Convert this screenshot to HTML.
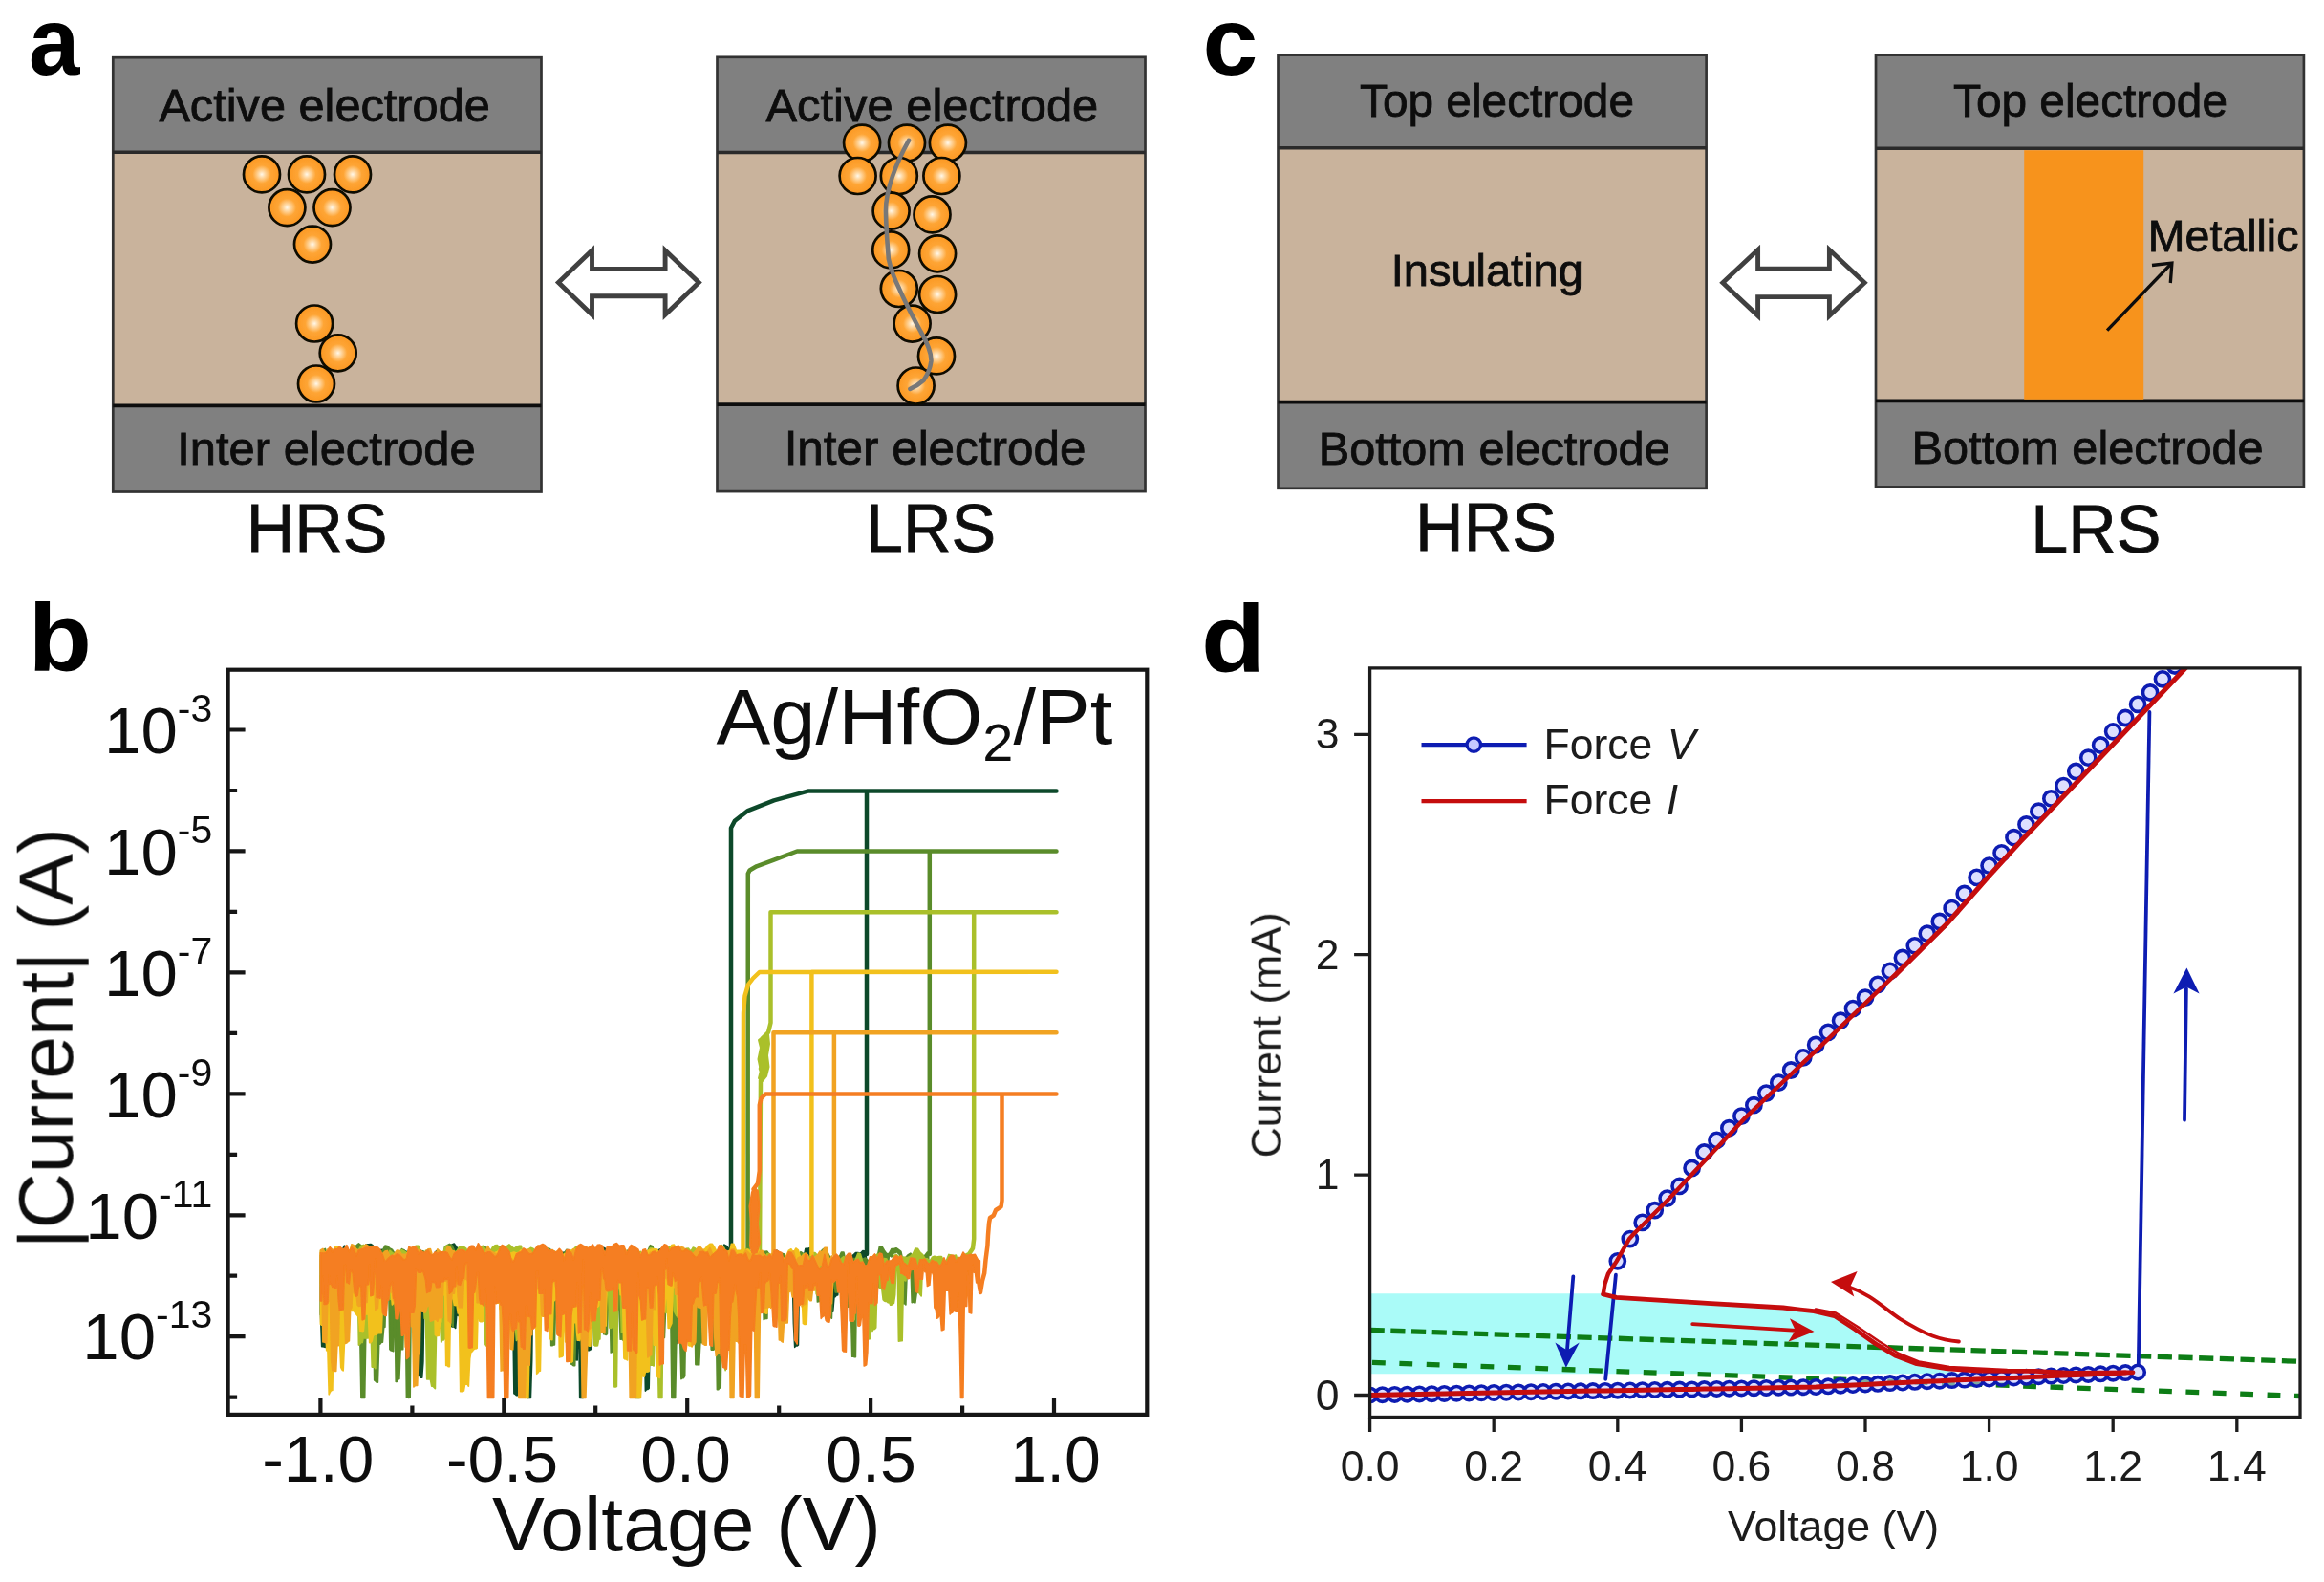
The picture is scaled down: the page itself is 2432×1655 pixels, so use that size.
<!DOCTYPE html>
<html lang="en"><head><meta charset="utf-8"><title>Figure</title>
<style>html,body{margin:0;padding:0;background:#fff;overflow:hidden}svg{display:block}text{font-family:"Liberation Sans", sans-serif}</style></head><body>
<svg width="2432" height="1655" viewBox="0 0 2432 1655">
<defs><radialGradient id="ball" cx="50%" cy="50%" r="50%"><stop offset="0" stop-color="#fff8ea"/><stop offset="0.16" stop-color="#ffdcab"/><stop offset="0.5" stop-color="#fea535"/><stop offset="1" stop-color="#fb9823"/></radialGradient><filter id="soft" x="-2%" y="-2%" width="104%" height="104%"><feGaussianBlur stdDeviation="0.65"/></filter><clipPath id="clipb"><rect x="239" y="701" width="962" height="779"/></clipPath><clipPath id="clipd"><rect x="1433.6" y="699" width="973.4" height="783.5"/></clipPath></defs>
<rect width="2432" height="1655" fill="#fff"/>
<g filter="url(#soft)">
<text transform="translate(30.0,78.0) scale(0.960,1)" font-size="100" font-weight="bold" fill="#000">a</text>
<text transform="translate(1258.5,78.0) scale(1.040,1)" font-size="100" font-weight="bold" fill="#000">c</text>
<text transform="translate(29.5,702.0) scale(1.090,1)" font-size="100" font-weight="bold" fill="#000">b</text>
<text transform="translate(1257.0,703.0) scale(1.100,1)" font-size="100" font-weight="bold" fill="#000">d</text>
<rect x="118.3" y="160.0" width="448.2" height="264.3" fill="#c9b39c"/>
<rect x="118.3" y="60.2" width="448.2" height="99.8" fill="#808080"/>
<rect x="118.3" y="424.3" width="448.2" height="90.2" fill="#808080"/>
<rect x="118.3" y="60.2" width="448.2" height="454.3" fill="none" stroke="#333333" stroke-width="2.7"/>
<line x1="118.3" y1="159.2" x2="566.5" y2="159.2" stroke="#2a2a2a" stroke-width="3.4"/>
<line x1="118.3" y1="424.3" x2="566.5" y2="424.3" stroke="#0e0e0e" stroke-width="3.8"/>
<circle cx="274.0" cy="182.4" r="19.0" fill="url(#ball)" stroke="#100802" stroke-width="2.7"/>
<circle cx="321.0" cy="182.4" r="19.0" fill="url(#ball)" stroke="#100802" stroke-width="2.7"/>
<circle cx="369.0" cy="182.4" r="19.0" fill="url(#ball)" stroke="#100802" stroke-width="2.7"/>
<circle cx="300.4" cy="217.2" r="19.0" fill="url(#ball)" stroke="#100802" stroke-width="2.7"/>
<circle cx="347.5" cy="217.2" r="19.0" fill="url(#ball)" stroke="#100802" stroke-width="2.7"/>
<circle cx="327.0" cy="255.6" r="19.0" fill="url(#ball)" stroke="#100802" stroke-width="2.7"/>
<circle cx="329.1" cy="338.5" r="19.0" fill="url(#ball)" stroke="#100802" stroke-width="2.7"/>
<circle cx="353.7" cy="369.3" r="19.0" fill="url(#ball)" stroke="#100802" stroke-width="2.7"/>
<circle cx="331.0" cy="401.5" r="19.0" fill="url(#ball)" stroke="#100802" stroke-width="2.7"/>
<text x="339.6" y="126.9" font-size="48.7" text-anchor="middle" font-weight="normal" fill="#0c0c0c" stroke="#0c0c0c" stroke-width="0.8">Active electrode</text>
<text x="341.5" y="486.0" font-size="48.9" text-anchor="middle" font-weight="normal" fill="#0c0c0c" stroke="#0c0c0c" stroke-width="0.8">Inter electrode</text>
<text x="331.6" y="577.3" font-size="70.0" text-anchor="middle" font-weight="normal" fill="#0c0c0c" stroke="#0c0c0c" stroke-width="0.8">HRS</text>
<polygon points="584.4,295.6 619.5,262.0 619.5,281.5 696.1,281.5 696.1,262.0 731.3,295.6 696.1,329.2 696.1,309.7 619.5,309.7 619.5,329.2" fill="#fff" stroke="#414141" stroke-width="4.9" stroke-linejoin="miter"/>
<rect x="750.5" y="160.3" width="448.0" height="262.9" fill="#c9b39c"/>
<rect x="750.5" y="59.8" width="448.0" height="100.5" fill="#808080"/>
<rect x="750.5" y="423.2" width="448.0" height="90.9" fill="#808080"/>
<rect x="750.5" y="59.8" width="448.0" height="454.3" fill="none" stroke="#333333" stroke-width="2.7"/>
<line x1="750.5" y1="159.5" x2="1198.5" y2="159.5" stroke="#2a2a2a" stroke-width="3.4"/>
<line x1="750.5" y1="423.2" x2="1198.5" y2="423.2" stroke="#0e0e0e" stroke-width="3.8"/>
<text x="975.4" y="126.6" font-size="48.9" text-anchor="middle" font-weight="normal" fill="#0c0c0c" stroke="#0c0c0c" stroke-width="0.8">Active electrode</text>
<text x="978.5" y="485.5" font-size="49.4" text-anchor="middle" font-weight="normal" fill="#0c0c0c" stroke="#0c0c0c" stroke-width="0.8">Inter electrode</text>
<circle cx="902.1" cy="149.6" r="19.0" fill="url(#ball)" stroke="#100802" stroke-width="2.7"/>
<circle cx="949.0" cy="149.6" r="19.0" fill="url(#ball)" stroke="#100802" stroke-width="2.7"/>
<circle cx="991.9" cy="149.6" r="19.0" fill="url(#ball)" stroke="#100802" stroke-width="2.7"/>
<circle cx="897.6" cy="184.0" r="19.0" fill="url(#ball)" stroke="#100802" stroke-width="2.7"/>
<circle cx="940.8" cy="184.0" r="19.0" fill="url(#ball)" stroke="#100802" stroke-width="2.7"/>
<circle cx="985.4" cy="184.0" r="19.0" fill="url(#ball)" stroke="#100802" stroke-width="2.7"/>
<circle cx="932.6" cy="220.7" r="19.0" fill="url(#ball)" stroke="#100802" stroke-width="2.7"/>
<circle cx="975.5" cy="224.4" r="19.0" fill="url(#ball)" stroke="#100802" stroke-width="2.7"/>
<circle cx="932.2" cy="261.4" r="19.0" fill="url(#ball)" stroke="#100802" stroke-width="2.7"/>
<circle cx="981.1" cy="265.3" r="19.0" fill="url(#ball)" stroke="#100802" stroke-width="2.7"/>
<circle cx="940.8" cy="302.0" r="19.0" fill="url(#ball)" stroke="#100802" stroke-width="2.7"/>
<circle cx="981.1" cy="308.0" r="19.0" fill="url(#ball)" stroke="#100802" stroke-width="2.7"/>
<circle cx="954.6" cy="338.6" r="19.0" fill="url(#ball)" stroke="#100802" stroke-width="2.7"/>
<circle cx="980.0" cy="372.4" r="19.0" fill="url(#ball)" stroke="#100802" stroke-width="2.7"/>
<circle cx="958.6" cy="403.5" r="19.0" fill="url(#ball)" stroke="#100802" stroke-width="2.7"/>
<path d="M951,146.8 C938,170 926,200 927,223 C927.5,245 929,258 929.8,270.8 C933,285 937,294 941,301.9 C948,318 956,333 963.6,347 C970,358 975,368 974.4,378 C973,388 970,393 966.5,397.8 C962,402 957,405 952.4,406.9" fill="none" stroke="#787878" stroke-width="4.6" stroke-linecap="round"/>
<text x="974.2" y="577.1" font-size="70.0" text-anchor="middle" font-weight="normal" fill="#0c0c0c" stroke="#0c0c0c" stroke-width="0.8">LRS</text>
<rect x="1337.5" y="155.6" width="448.1" height="265.0" fill="#c9b39c"/>
<rect x="1337.5" y="57.6" width="448.1" height="98.0" fill="#808080"/>
<rect x="1337.5" y="420.6" width="448.1" height="90.2" fill="#808080"/>
<rect x="1337.5" y="57.6" width="448.1" height="453.2" fill="none" stroke="#333333" stroke-width="2.7"/>
<line x1="1337.5" y1="154.8" x2="1785.6" y2="154.8" stroke="#2a2a2a" stroke-width="3.4"/>
<line x1="1337.5" y1="420.6" x2="1785.6" y2="420.6" stroke="#0e0e0e" stroke-width="3.8"/>
<text x="1566.5" y="122.3" font-size="47.8" text-anchor="middle" font-weight="normal" fill="#0c0c0c" stroke="#0c0c0c" stroke-width="0.8">Top electrode</text>
<text x="1563.7" y="486.1" font-size="48.7" text-anchor="middle" font-weight="normal" fill="#0c0c0c" stroke="#0c0c0c" stroke-width="0.8">Bottom electrode</text>
<text x="1556.3" y="298.7" font-size="47.0" text-anchor="middle" font-weight="normal" fill="#0c0c0c" stroke="#0c0c0c" stroke-width="0.8">Insulating</text>
<text x="1555.0" y="575.5" font-size="70.0" text-anchor="middle" font-weight="normal" fill="#0c0c0c" stroke="#0c0c0c" stroke-width="0.8">HRS</text>
<polygon points="1802.8,295.8 1839.6,261.3 1839.6,281.2 1914.4,281.2 1914.4,261.3 1951.2,295.8 1914.4,330.3 1914.4,310.6 1839.6,310.6 1839.6,330.3" fill="#fff" stroke="#414141" stroke-width="4.9" stroke-linejoin="miter"/>
<rect x="1963.0" y="156.0" width="447.9" height="263.3" fill="#c9b39c"/>
<rect x="1963.0" y="57.6" width="447.9" height="98.4" fill="#808080"/>
<rect x="1963.0" y="419.3" width="447.9" height="90.1" fill="#808080"/>
<rect x="1963.0" y="57.6" width="447.9" height="451.8" fill="none" stroke="#333333" stroke-width="2.7"/>
<line x1="1963.0" y1="155.2" x2="2410.9" y2="155.2" stroke="#2a2a2a" stroke-width="3.4"/>
<line x1="1963.0" y1="419.3" x2="2410.9" y2="419.3" stroke="#0e0e0e" stroke-width="3.8"/>
<rect x="2118.2" y="157.2" width="125" height="260.6" fill="#f7931e"/>
<text x="2187.5" y="122.3" font-size="47.8" text-anchor="middle" font-weight="normal" fill="#0c0c0c" stroke="#0c0c0c" stroke-width="0.8">Top electrode</text>
<text x="2184.6" y="484.9" font-size="48.7" text-anchor="middle" font-weight="normal" fill="#0c0c0c" stroke="#0c0c0c" stroke-width="0.8">Bottom electrode</text>
<text x="2326.6" y="263.3" font-size="46.5" text-anchor="middle" font-weight="normal" fill="#0c0c0c" stroke="#0c0c0c" stroke-width="0.8">Metallic</text>
<path d="M2205.1,345.6 L2271,277" stroke="#0a0a0a" stroke-width="3.3" fill="none"/>
<path d="M2252,277.5 L2272.9,275.1 L2271.3,296" stroke="#0a0a0a" stroke-width="3.3" fill="none"/>
<text x="2193.3" y="578.0" font-size="70.0" text-anchor="middle" font-weight="normal" fill="#0c0c0c" stroke="#0c0c0c" stroke-width="0.8">LRS</text>
<g clip-path="url(#clipb)" fill="none" stroke-linejoin="round" stroke-linecap="round">
<polygon points="335.4,1313.2 337.9,1313.2 340.4,1310.3 342.9,1310.3 345.4,1314.4 347.9,1315.0 350.4,1308.4 352.9,1308.0 355.4,1310.7 357.9,1308.4 360.4,1303.1 362.9,1304.3 365.4,1312.2 367.9,1317.0 370.4,1310.5 372.9,1309.6 375.4,1309.5 377.9,1305.5 380.4,1304.3 382.9,1302.0 385.4,1301.7 387.9,1301.5 390.4,1303.0 392.9,1308.4 395.4,1308.7 397.9,1307.5 400.4,1307.4 402.9,1312.8 405.4,1309.1 407.9,1311.2 410.4,1311.0 412.9,1313.2 415.4,1318.5 417.9,1309.8 420.4,1309.2 422.9,1308.2 425.4,1309.7 427.9,1308.4 430.4,1312.2 432.9,1305.0 435.4,1304.3 437.9,1304.1 440.4,1309.1 442.9,1310.7 445.4,1313.1 447.9,1313.5 450.4,1320.5 452.9,1320.3 455.4,1309.9 457.9,1308.0 460.4,1310.0 462.9,1312.4 465.4,1321.7 467.9,1310.8 470.4,1305.4 472.9,1302.1 475.4,1301.1 477.9,1304.7 480.4,1311.0 482.9,1313.3 485.4,1318.3 487.9,1307.7 490.4,1308.9 492.9,1315.1 495.4,1317.3 497.9,1309.2 500.4,1308.6 502.9,1316.6 505.4,1316.4 507.9,1314.7 510.4,1316.6 512.9,1316.9 515.4,1311.5 517.9,1310.0 520.4,1308.5 522.9,1308.5 525.4,1307.4 527.9,1307.7 530.4,1307.4 532.9,1310.7 535.4,1311.7 537.9,1313.2 540.4,1320.1 542.9,1312.9 545.4,1311.0 547.9,1311.6 550.4,1310.0 552.9,1317.6 555.4,1310.4 557.9,1309.9 560.4,1309.3 562.9,1310.8 565.4,1310.8 567.9,1310.5 570.4,1311.3 572.9,1312.0 575.4,1313.0 577.9,1315.1 580.4,1315.2 582.9,1310.9 585.4,1309.6 587.9,1310.0 590.4,1310.2 592.9,1309.6 595.4,1312.6 597.9,1312.6 600.4,1313.3 602.9,1317.6 605.4,1318.1 607.9,1317.3 610.4,1309.9 612.9,1310.5 615.4,1314.2 617.9,1311.3 620.4,1310.3 622.9,1308.8 625.4,1307.2 627.9,1309.0 630.4,1304.9 632.9,1305.7 635.4,1310.1 637.9,1307.0 640.4,1307.3 642.9,1310.5 645.4,1310.9 647.9,1310.9 650.4,1309.9 652.9,1316.2 655.4,1314.0 657.9,1309.1 660.4,1307.1 662.9,1308.3 665.4,1308.4 667.9,1310.2 670.4,1314.8 672.9,1317.2 675.4,1317.0 677.9,1315.3 680.4,1312.9 682.9,1309.0 685.4,1308.1 687.9,1308.6 690.4,1307.0 692.9,1306.0 695.4,1314.2 697.9,1317.1 700.4,1314.5 702.9,1316.1 705.4,1322.7 707.9,1313.0 710.4,1309.6 712.9,1307.2 715.4,1306.7 717.9,1308.8 720.4,1310.1 722.9,1313.5 725.4,1313.2 727.9,1309.4 730.4,1308.9 732.9,1308.8 735.4,1309.9 737.9,1314.9 740.4,1316.0 742.9,1320.0 745.4,1320.0 747.9,1317.3 750.4,1315.7 752.9,1312.2 755.4,1310.2 757.9,1302.1 760.4,1303.5 762.9,1306.4 765.4,1312.2 767.9,1311.1 770.4,1312.4 772.9,1313.0 775.4,1320.4 777.9,1321.0 780.4,1316.2 782.9,1315.1 785.4,1317.5 787.9,1320.4 790.4,1318.4 792.9,1313.3 795.4,1314.8 797.9,1320.2 800.4,1314.7 802.9,1314.2 805.4,1314.1 807.9,1317.7 810.4,1310.2 812.9,1308.0 815.4,1310.4 817.9,1312.3 820.4,1313.3 822.9,1315.0 825.4,1315.9 827.9,1315.4 830.4,1315.8 832.9,1324.9 835.4,1320.1 837.9,1317.2 840.4,1319.1 842.9,1306.2 845.4,1306.2 847.9,1305.5 850.4,1317.4 852.9,1316.3 855.4,1319.2 857.9,1322.8 860.4,1312.6 862.9,1312.6 865.4,1326.5 867.9,1328.0 870.4,1324.6 872.9,1324.2 875.4,1317.8 877.9,1314.5 880.4,1314.5 882.9,1316.8 885.4,1325.0 887.9,1316.4 890.4,1314.9 892.9,1313.0 895.4,1310.6 897.9,1310.6 900.4,1311.4 902.9,1308.6 905.4,1309.1 906.7,1317.9 906.7,1338.6 905.4,1337.3 904.2,1337.3 902.9,1315.3 901.7,1314.3 900.4,1315.6 899.2,1315.6 897.9,1346.5 896.7,1347.7 895.4,1348.7 894.2,1348.7 892.9,1319.1 891.7,1317.6 890.4,1338.6 889.2,1338.6 887.9,1340.1 886.7,1340.8 885.4,1340.8 884.2,1338.3 882.9,1337.4 881.7,1335.6 880.4,1335.6 879.2,1319.4 877.9,1334.5 876.7,1355.0 875.4,1355.0 874.2,1356.5 872.9,1357.4 871.7,1372.3 870.4,1372.3 869.2,1373.1 867.9,1372.9 866.7,1351.4 865.4,1351.4 864.2,1349.2 862.9,1348.1 861.7,1348.1 860.4,1325.3 859.2,1327.7 857.9,1327.3 856.7,1327.3 855.4,1326.9 854.2,1335.5 852.9,1333.9 851.7,1333.9 850.4,1331.3 849.2,1320.7 847.9,1316.7 846.7,1316.7 845.4,1316.9 844.2,1343.1 842.9,1343.1 841.7,1348.1 840.4,1348.5 839.2,1350.5 837.9,1350.5 836.7,1323.1 835.4,1407.2 834.2,1408.0 832.9,1408.0 831.7,1409.3 830.4,1384.4 829.2,1328.6 827.9,1328.6 826.7,1326.3 825.4,1348.6 824.2,1348.6 822.9,1347.8 821.7,1347.3 820.4,1338.8 819.2,1338.8 817.9,1335.7 816.7,1334.5 815.4,1326.2 814.2,1326.2 812.9,1325.6 811.7,1329.2 810.4,1330.2 809.2,1330.2 807.9,1344.1 806.7,1344.3 805.4,1344.7 804.2,1344.7 802.9,1326.8 801.7,1327.2 800.4,1327.2 799.2,1331.3 797.9,1332.0 796.7,1331.8 795.4,1331.8 794.2,1330.8 792.9,1326.2 791.7,1349.5 790.4,1349.5 789.2,1348.5 787.9,1358.6 786.7,1357.2 785.4,1357.2 784.2,1356.6 782.9,1324.5 781.7,1324.5 780.4,1327.9 779.2,1329.0 777.9,1348.6 776.7,1348.6 775.4,1348.1 774.2,1348.8 772.9,1347.1 771.7,1347.1 770.4,1346.5 769.2,1317.2 767.9,1317.8 766.7,1317.8 765.4,1337.1 764.2,1336.6 762.9,1335.2 761.7,1335.2 760.4,1325.2 759.2,1323.8 757.9,1323.8 756.7,1323.1 755.4,1324.5 754.2,1318.5 752.9,1318.5 751.7,1321.5 750.4,1324.8 749.2,1333.7 747.9,1333.7 746.7,1335.1 745.4,1335.4 744.2,1350.2 742.9,1350.2 741.7,1349.0 740.4,1348.9 739.2,1348.9 737.9,1338.2 736.7,1337.1 735.4,1334.9 734.2,1334.9 732.9,1329.1 731.7,1372.3 730.4,1372.8 729.2,1372.8 727.9,1373.3 726.7,1377.0 725.4,1395.3 724.2,1395.3 722.9,1395.6 721.7,1393.9 720.4,1384.5 719.2,1384.5 717.9,1337.1 716.7,1332.4 715.4,1332.4 714.2,1331.2 712.9,1366.2 711.7,1368.7 710.4,1368.7 709.2,1370.6 707.9,1405.7 706.7,1406.6 705.4,1406.6 704.2,1408.1 702.9,1356.8 701.7,1358.8 700.4,1358.8 699.2,1356.3 697.9,1354.4 696.7,1354.4 695.4,1349.0 694.2,1331.4 692.9,1360.0 691.7,1360.0 690.4,1361.6 689.2,1362.9 687.9,1341.9 686.7,1341.9 685.4,1341.4 684.2,1325.8 682.9,1327.6 681.7,1327.6 680.4,1380.4 679.2,1452.3 677.9,1453.5 676.7,1453.5 675.4,1455.1 674.2,1381.0 672.9,1381.0 671.7,1382.8 670.4,1386.0 669.2,1385.8 667.9,1385.8 666.7,1439.7 665.4,1438.9 664.2,1437.5 662.9,1437.5 661.7,1322.9 660.4,1347.4 659.2,1347.4 657.9,1347.4 656.7,1347.2 655.4,1328.0 654.2,1328.0 652.9,1333.5 651.7,1334.7 650.4,1335.6 649.2,1335.6 647.9,1320.8 646.7,1324.3 645.4,1324.1 644.2,1324.1 642.9,1323.6 641.7,1318.0 640.4,1317.6 639.2,1317.6 637.9,1314.8 636.7,1336.7 635.4,1335.7 634.2,1335.7 632.9,1334.5 631.7,1335.8 630.4,1335.8 629.2,1335.3 627.9,1334.8 626.7,1325.6 625.4,1325.6 624.2,1323.9 622.9,1347.1 621.7,1347.7 620.4,1347.7 619.2,1411.4 617.9,1411.7 616.7,1412.6 615.4,1412.6 614.2,1375.8 612.9,1449.4 611.7,1449.4 610.4,1462.5 609.2,1462.5 607.9,1462.5 606.7,1462.5 605.4,1358.2 604.2,1422.9 602.9,1422.6 601.7,1422.6 600.4,1422.0 599.2,1393.3 597.9,1393.0 596.7,1393.0 595.4,1393.1 594.2,1360.3 592.9,1361.0 591.7,1361.0 590.4,1360.3 589.2,1347.6 587.9,1347.6 586.7,1348.9 585.4,1348.0 584.2,1349.4 582.9,1349.4 581.7,1374.0 580.4,1374.9 579.2,1374.8 577.9,1374.8 576.7,1361.8 575.4,1361.4 574.2,1343.7 572.9,1343.7 571.7,1330.0 570.4,1364.0 569.2,1364.0 567.9,1363.1 566.7,1362.1 565.4,1359.9 564.2,1359.9 562.9,1354.1 561.7,1326.5 560.4,1327.0 559.2,1327.0 557.9,1326.1 556.7,1423.1 555.4,1462.5 554.2,1462.5 552.9,1462.5 551.7,1462.5 550.4,1436.7 549.2,1436.7 547.9,1438.2 546.7,1437.8 545.4,1437.8 544.2,1388.9 542.9,1389.0 541.7,1459.7 540.4,1459.7 539.2,1458.4 537.9,1457.8 536.7,1368.6 535.4,1368.6 534.2,1367.8 532.9,1346.7 531.7,1346.1 530.4,1346.1 529.2,1329.2 527.9,1316.2 526.7,1316.2 525.4,1314.6 524.2,1315.9 522.9,1316.2 521.7,1316.2 520.4,1336.5 519.2,1339.3 517.9,1344.2 516.7,1344.2 515.4,1345.6 514.2,1346.1 512.9,1327.5 511.7,1327.5 510.4,1327.9 509.2,1326.3 507.9,1325.9 506.7,1325.9 505.4,1320.4 504.2,1320.5 502.9,1320.5 501.7,1320.9 500.4,1321.7 499.2,1325.5 497.9,1325.5 496.7,1363.1 495.4,1364.0 494.2,1364.2 492.9,1364.2 491.7,1363.6 490.4,1392.9 489.2,1391.8 487.9,1391.8 486.7,1392.1 485.4,1371.9 484.2,1371.9 482.9,1372.8 481.7,1371.9 480.4,1376.4 479.2,1376.4 477.9,1374.2 476.7,1389.5 475.4,1388.0 474.2,1388.0 472.9,1388.0 471.7,1380.2 470.4,1382.1 469.2,1382.1 467.9,1385.3 466.7,1346.9 465.4,1387.5 464.2,1387.5 462.9,1386.5 461.7,1384.6 460.4,1384.6 459.2,1360.3 457.9,1327.0 456.7,1328.3 455.4,1328.3 454.2,1329.2 452.9,1330.2 451.7,1345.9 450.4,1345.9 449.2,1346.7 447.9,1346.3 446.7,1343.5 445.4,1343.5 444.2,1334.9 442.9,1424.7 441.7,1441.3 440.4,1441.3 439.2,1439.5 437.9,1439.2 436.7,1439.2 435.4,1401.7 434.2,1401.8 432.9,1351.2 431.7,1351.2 430.4,1358.5 429.2,1358.2 427.9,1359.2 426.7,1359.2 425.4,1336.9 424.2,1338.3 422.9,1339.6 421.7,1339.6 420.4,1330.5 419.2,1332.8 417.9,1332.8 416.7,1334.7 415.4,1335.5 414.2,1353.2 412.9,1353.2 411.7,1355.1 410.4,1355.5 409.2,1356.2 407.9,1356.2 406.7,1355.5 405.4,1353.7 404.2,1351.1 402.9,1351.1 401.7,1350.0 400.4,1351.5 399.2,1351.5 397.9,1379.3 396.7,1380.4 395.4,1380.5 394.2,1380.5 392.9,1349.3 391.7,1339.3 390.4,1350.0 389.2,1350.0 387.9,1348.6 386.7,1362.7 385.4,1363.2 384.2,1363.2 382.9,1363.4 381.7,1334.1 380.4,1339.3 379.2,1339.3 377.9,1340.5 376.7,1340.9 375.4,1340.9 374.2,1367.2 372.9,1367.0 371.7,1367.9 370.4,1367.9 369.2,1338.4 367.9,1338.5 366.7,1320.0 365.4,1320.0 364.2,1315.7 362.9,1314.3 361.7,1320.7 360.4,1320.7 359.2,1332.3 357.9,1334.3 356.7,1345.2 355.4,1345.2 354.2,1346.4 352.9,1346.6 351.7,1346.6 350.4,1338.3 349.2,1339.1 347.9,1371.7 346.7,1371.7 345.4,1372.0 344.2,1372.8 342.9,1368.2 341.7,1368.2 340.4,1409.5 339.2,1409.1 337.9,1408.7 336.7,1408.7 335.4,1373.7" fill="#0b4a2b" stroke="#0b4a2b" stroke-width="1.6"/>
<polyline points="765.0,1310.0 765.0,866.3 768.9,858.7 782.6,848.1 809.9,837.4 846.3,827.4 1105.5,827.4 907.0,827.4 907.0,1312.0" stroke="#0b4a2b" stroke-width="4.5"/>
<polygon points="335.4,1318.1 337.9,1308.0 340.4,1306.4 342.9,1314.5 345.4,1311.3 347.9,1311.9 350.4,1313.6 352.9,1318.5 355.4,1318.7 357.9,1310.6 360.4,1310.4 362.9,1311.3 365.4,1318.1 367.9,1305.9 370.4,1304.3 372.9,1302.9 375.4,1300.9 377.9,1302.9 380.4,1316.3 382.9,1312.0 385.4,1310.2 387.9,1308.1 390.4,1304.5 392.9,1305.6 395.4,1313.6 397.9,1310.0 400.4,1308.2 402.9,1303.0 405.4,1303.6 407.9,1305.9 410.4,1307.1 412.9,1311.1 415.4,1310.0 417.9,1312.7 420.4,1306.6 422.9,1307.8 425.4,1311.1 427.9,1311.4 430.4,1310.7 432.9,1310.7 435.4,1308.6 437.9,1308.8 440.4,1308.5 442.9,1308.7 445.4,1312.2 447.9,1312.8 450.4,1317.8 452.9,1323.3 455.4,1317.0 457.9,1317.1 460.4,1322.8 462.9,1320.5 465.4,1304.5 467.9,1302.6 470.4,1301.4 472.9,1302.7 475.4,1308.2 477.9,1310.2 480.4,1309.5 482.9,1308.2 485.4,1311.2 487.9,1314.0 490.4,1309.3 492.9,1309.4 495.4,1312.0 497.9,1312.1 500.4,1311.1 502.9,1310.6 505.4,1305.0 507.9,1304.6 510.4,1306.3 512.9,1307.5 515.4,1308.9 517.9,1310.5 520.4,1307.6 522.9,1304.4 525.4,1304.9 527.9,1309.1 530.4,1311.2 532.9,1312.6 535.4,1316.6 537.9,1315.4 540.4,1317.4 542.9,1313.9 545.4,1314.7 547.9,1309.4 550.4,1309.9 552.9,1308.5 555.4,1308.2 557.9,1307.1 560.4,1309.6 562.9,1310.6 565.4,1312.6 567.9,1311.7 570.4,1310.5 572.9,1306.0 575.4,1306.5 577.9,1309.2 580.4,1309.2 582.9,1311.8 585.4,1311.6 587.9,1312.5 590.4,1310.9 592.9,1307.3 595.4,1307.7 597.9,1309.0 600.4,1310.4 602.9,1313.1 605.4,1314.7 607.9,1313.7 610.4,1308.6 612.9,1306.8 615.4,1305.7 617.9,1306.3 620.4,1310.0 622.9,1308.5 625.4,1310.7 627.9,1315.8 630.4,1316.2 632.9,1315.8 635.4,1320.3 637.9,1319.5 640.4,1309.3 642.9,1308.2 645.4,1309.8 647.9,1311.2 650.4,1308.5 652.9,1309.6 655.4,1308.8 657.9,1307.6 660.4,1307.1 662.9,1308.8 665.4,1316.3 667.9,1316.3 670.4,1316.1 672.9,1321.0 675.4,1314.3 677.9,1308.5 680.4,1302.7 682.9,1303.8 685.4,1311.8 687.9,1311.6 690.4,1312.1 692.9,1320.5 695.4,1320.4 697.9,1311.7 700.4,1310.7 702.9,1306.0 705.4,1307.5 707.9,1314.0 710.4,1317.3 712.9,1326.1 715.4,1325.1 717.9,1309.6 720.4,1308.4 722.9,1308.7 725.4,1308.3 727.9,1307.7 730.4,1307.8 732.9,1314.1 735.4,1313.8 737.9,1313.8 740.4,1315.4 742.9,1315.7 745.4,1316.2 747.9,1313.8 750.4,1320.6 752.9,1308.8 755.4,1309.3 757.9,1317.2 760.4,1320.9 762.9,1317.7 765.4,1318.1 767.9,1319.5 770.4,1320.9 772.9,1319.2 775.4,1309.1 777.9,1309.6 780.4,1318.9 782.9,1315.6 785.4,1312.7 787.9,1316.1 790.4,1311.4 792.9,1312.9 795.4,1315.3 797.9,1317.9 800.4,1309.4 802.9,1309.1 805.4,1313.0 807.9,1316.8 810.4,1314.5 812.9,1315.0 815.4,1322.0 817.9,1311.4 820.4,1311.8 822.9,1323.0 825.4,1322.3 827.9,1322.5 830.4,1319.9 832.9,1313.5 835.4,1312.6 837.9,1309.7 840.4,1311.2 842.9,1320.8 845.4,1321.6 847.9,1322.0 850.4,1322.3 852.9,1321.0 855.4,1318.8 857.9,1312.8 860.4,1307.6 862.9,1305.8 865.4,1309.7 867.9,1313.7 870.4,1316.8 872.9,1315.2 875.4,1315.8 877.9,1315.8 880.4,1310.1 882.9,1310.0 885.4,1321.6 887.9,1322.8 890.4,1322.2 892.9,1316.5 895.4,1316.5 897.9,1321.3 900.4,1321.0 902.9,1317.2 905.4,1315.9 907.9,1318.0 910.4,1321.7 912.9,1314.9 915.4,1316.0 917.9,1315.6 920.4,1303.9 922.9,1303.9 925.4,1308.2 927.9,1311.7 930.4,1311.4 932.9,1306.5 935.4,1306.5 937.9,1305.7 940.4,1307.4 942.9,1309.3 945.4,1321.1 947.9,1315.3 950.4,1312.6 952.9,1311.1 955.4,1316.6 957.9,1312.7 960.4,1310.8 962.9,1311.2 965.4,1313.7 967.9,1313.2 970.4,1310.0 971.7,1309.8 971.7,1318.4 970.4,1318.6 969.2,1317.2 967.9,1317.7 966.7,1317.7 965.4,1317.3 964.2,1317.7 962.9,1317.5 961.7,1317.5 960.4,1318.2 959.2,1353.0 957.9,1362.8 956.7,1362.8 955.4,1362.1 954.2,1362.7 952.9,1323.5 951.7,1318.5 950.4,1318.5 949.2,1331.1 947.9,1365.0 946.7,1363.7 945.4,1363.7 944.2,1362.4 942.9,1326.4 941.7,1311.9 940.4,1311.9 939.2,1310.0 937.9,1310.0 936.7,1310.8 935.4,1310.8 934.2,1312.6 932.9,1315.0 931.7,1313.9 930.4,1313.9 929.2,1324.8 927.9,1324.8 926.7,1324.8 925.4,1324.8 924.2,1319.4 922.9,1310.4 921.7,1319.2 920.4,1319.2 919.2,1346.5 917.9,1347.1 916.7,1347.4 915.4,1347.4 914.2,1340.3 912.9,1341.6 911.7,1339.8 910.4,1339.4 909.2,1339.4 907.9,1340.0 906.7,1337.6 905.4,1339.0 904.2,1339.0 902.9,1340.3 901.7,1337.7 900.4,1338.5 899.2,1338.5 897.9,1337.3 896.7,1323.5 895.4,1419.7 894.2,1419.7 892.9,1418.9 891.7,1419.3 890.4,1366.6 889.2,1366.6 887.9,1367.2 886.7,1366.9 885.4,1334.7 884.2,1334.7 882.9,1321.2 881.7,1320.6 880.4,1319.7 879.2,1319.7 877.9,1351.0 876.7,1352.1 875.4,1352.0 874.2,1352.0 872.9,1341.5 871.7,1339.1 870.4,1379.3 869.2,1377.7 867.9,1377.7 866.7,1377.9 865.4,1339.5 864.2,1340.5 862.9,1340.5 861.7,1341.5 860.4,1350.0 859.2,1361.5 857.9,1361.5 856.7,1361.6 855.4,1362.0 854.2,1335.7 852.9,1335.7 851.7,1336.6 850.4,1338.4 849.2,1350.3 847.9,1350.3 846.7,1350.3 845.4,1348.5 844.2,1353.6 842.9,1353.6 841.7,1352.3 840.4,1360.4 839.2,1358.9 837.9,1358.9 836.7,1358.4 835.4,1342.1 834.2,1343.1 832.9,1343.1 831.7,1334.3 830.4,1335.4 829.2,1332.1 827.9,1333.4 826.7,1333.4 825.4,1330.7 824.2,1333.6 822.9,1333.8 821.7,1333.8 820.4,1333.7 819.2,1323.0 817.9,1325.2 816.7,1325.2 815.4,1325.8 814.2,1325.9 812.9,1326.3 811.7,1326.3 810.4,1349.6 809.2,1349.0 807.9,1348.4 806.7,1348.4 805.4,1341.6 804.2,1321.6 802.9,1379.5 801.7,1379.5 800.4,1379.7 799.2,1380.5 797.9,1338.2 796.7,1338.2 795.4,1339.2 794.2,1329.7 792.9,1327.9 791.7,1327.9 790.4,1326.4 789.2,1330.6 787.9,1330.4 786.7,1331.4 785.4,1331.4 784.2,1340.5 782.9,1352.5 781.7,1352.5 780.4,1352.5 779.2,1351.2 777.9,1373.7 776.7,1373.2 775.4,1373.2 774.2,1374.3 772.9,1380.1 771.7,1381.8 770.4,1381.8 769.2,1381.9 767.9,1336.3 766.7,1343.6 765.4,1343.6 764.2,1374.2 762.9,1373.0 761.7,1372.0 760.4,1372.0 759.2,1375.2 757.9,1376.2 756.7,1374.7 755.4,1374.7 754.2,1451.9 752.9,1452.0 751.7,1453.7 750.4,1453.7 749.2,1370.6 747.9,1410.9 746.7,1412.3 745.4,1412.1 744.2,1412.1 742.9,1349.6 741.7,1369.4 740.4,1368.7 739.2,1368.7 737.9,1367.9 736.7,1344.6 735.4,1404.6 734.2,1404.6 732.9,1403.6 731.7,1428.0 730.4,1427.7 729.2,1427.7 727.9,1427.6 726.7,1344.7 725.4,1344.1 724.2,1344.1 722.9,1344.5 721.7,1358.8 720.4,1359.4 719.2,1359.4 717.9,1365.0 716.7,1439.5 715.4,1441.6 714.2,1441.6 712.9,1442.7 711.7,1401.4 710.4,1401.0 709.2,1401.0 707.9,1399.4 706.7,1462.5 705.4,1462.5 704.2,1462.5 702.9,1462.5 701.7,1366.3 700.4,1367.4 699.2,1368.4 697.9,1368.4 696.7,1366.2 695.4,1399.5 694.2,1399.6 692.9,1399.6 691.7,1413.3 690.4,1413.2 689.2,1412.7 687.9,1412.7 686.7,1405.5 685.4,1403.8 684.2,1388.6 682.9,1388.6 681.7,1377.3 680.4,1377.0 679.2,1378.8 677.9,1378.8 676.7,1413.7 675.4,1417.9 674.2,1420.9 672.9,1420.9 671.7,1416.9 670.4,1368.9 669.2,1462.5 667.9,1462.5 666.7,1462.5 665.4,1462.5 664.2,1384.0 662.9,1345.4 661.7,1345.4 660.4,1331.9 659.2,1330.4 657.9,1353.9 656.7,1353.9 655.4,1365.7 654.2,1366.1 652.9,1401.9 651.7,1401.9 650.4,1400.7 649.2,1401.2 647.9,1369.8 646.7,1369.8 645.4,1345.8 644.2,1344.9 642.9,1413.4 641.7,1413.4 640.4,1414.5 639.2,1414.9 637.9,1354.3 636.7,1354.3 635.4,1395.6 634.2,1396.5 632.9,1395.8 631.7,1395.8 630.4,1352.5 629.2,1387.3 627.9,1386.4 626.7,1386.4 625.4,1383.9 624.2,1363.8 622.9,1349.7 621.7,1349.9 620.4,1349.9 619.2,1349.0 617.9,1336.2 616.7,1331.4 615.4,1331.4 614.2,1332.1 612.9,1421.5 611.7,1423.4 610.4,1423.4 609.2,1423.9 607.9,1386.1 606.7,1386.5 605.4,1386.5 604.2,1374.7 602.9,1374.6 601.7,1428.8 600.4,1428.8 599.2,1427.8 597.9,1427.3 596.7,1335.2 595.4,1335.2 594.2,1337.5 592.9,1352.7 591.7,1354.3 590.4,1354.3 589.2,1355.2 587.9,1331.4 586.7,1347.6 585.4,1347.6 584.2,1346.7 582.9,1344.7 581.7,1359.8 580.4,1407.0 579.2,1407.0 577.9,1407.8 576.7,1407.8 575.4,1324.7 574.2,1324.7 572.9,1324.2 571.7,1353.7 570.4,1354.1 569.2,1354.1 567.9,1355.0 566.7,1340.4 565.4,1340.5 564.2,1340.5 562.9,1332.3 561.7,1335.5 560.4,1340.8 559.2,1340.8 557.9,1340.9 556.7,1341.8 555.4,1328.9 554.2,1328.9 552.9,1329.2 551.7,1329.6 550.4,1335.2 549.2,1335.2 547.9,1397.1 546.7,1396.3 545.4,1395.9 544.2,1395.9 542.9,1330.3 541.7,1330.4 540.4,1330.9 539.2,1328.4 537.9,1328.4 536.7,1322.7 535.4,1327.3 534.2,1328.3 532.9,1328.3 531.7,1331.8 530.4,1331.2 529.2,1329.1 527.9,1329.1 526.7,1331.4 525.4,1329.2 524.2,1328.7 522.9,1328.7 521.7,1322.4 520.4,1346.1 519.2,1349.0 517.9,1349.0 516.7,1350.8 515.4,1324.1 514.2,1320.8 512.9,1320.8 511.7,1383.2 510.4,1381.4 509.2,1380.4 507.9,1380.4 506.7,1319.7 505.4,1344.6 504.2,1345.0 502.9,1345.0 501.7,1347.0 500.4,1335.9 499.2,1337.2 497.9,1359.7 496.7,1359.7 495.4,1360.1 494.2,1359.7 492.9,1339.0 491.7,1339.0 490.4,1339.5 489.2,1339.5 487.9,1341.5 486.7,1341.5 485.4,1347.2 484.2,1347.4 482.9,1347.6 481.7,1347.6 480.4,1350.3 479.2,1350.8 477.9,1350.6 476.7,1350.6 475.4,1331.1 474.2,1388.3 472.9,1386.0 471.7,1386.0 470.4,1384.7 469.2,1329.7 467.9,1329.7 466.7,1329.7 465.4,1344.0 464.2,1382.8 462.9,1386.8 461.7,1386.8 460.4,1389.1 459.2,1364.3 457.9,1364.1 456.7,1352.7 455.4,1352.7 454.2,1351.6 452.9,1338.7 451.7,1331.8 450.4,1331.8 449.2,1331.3 447.9,1330.0 446.7,1326.3 445.4,1326.3 444.2,1327.4 442.9,1343.9 441.7,1365.5 440.4,1365.5 439.2,1364.9 437.9,1365.0 436.7,1373.3 435.4,1373.3 434.2,1374.0 432.9,1374.1 431.7,1340.4 430.4,1340.4 429.2,1462.0 427.9,1462.4 426.7,1462.1 425.4,1462.1 424.2,1362.0 422.9,1360.3 421.7,1411.7 420.4,1411.7 419.2,1409.9 417.9,1442.5 416.7,1443.0 415.4,1445.4 414.2,1445.4 412.9,1350.6 411.7,1413.8 410.4,1413.0 409.2,1413.0 407.9,1411.7 406.7,1342.0 405.4,1340.7 404.2,1340.7 402.9,1388.2 401.7,1388.7 400.4,1404.3 399.2,1404.3 397.9,1406.0 396.7,1406.6 395.4,1446.1 394.2,1446.1 392.9,1445.0 391.7,1444.0 390.4,1364.2 389.2,1364.2 387.9,1364.8 386.7,1366.3 385.4,1387.8 384.2,1387.8 382.9,1388.4 381.7,1462.5 380.4,1462.5 379.2,1462.5 377.9,1462.5 376.7,1393.9 375.4,1322.2 374.2,1329.4 372.9,1329.4 371.7,1366.6 370.4,1367.3 369.2,1368.8 367.9,1368.8 366.7,1344.4 365.4,1346.1 364.2,1345.4 362.9,1345.4 361.7,1346.3 360.4,1347.3 359.2,1338.4 357.9,1338.4 356.7,1369.5 355.4,1369.2 354.2,1369.1 352.9,1369.1 351.7,1367.4 350.4,1366.9 349.2,1349.3 347.9,1349.3 346.7,1349.5 345.4,1365.2 344.2,1364.7 342.9,1364.7 341.7,1364.9 340.4,1333.8 339.2,1343.9 337.9,1343.9 336.7,1374.2 335.4,1375.4" fill="#5a8c2b" stroke="#5a8c2b" stroke-width="1.6"/>
<polyline points="782.6,1310.0 782.8,914.0 784.5,910.5 791.7,906.3 809.9,899.6 834.1,890.5 1105.5,890.5 972.8,890.5 972.8,1312.0" stroke="#5a8c2b" stroke-width="4.5"/>
<polygon points="335.4,1308.7 337.9,1309.0 340.4,1310.0 342.9,1311.1 345.4,1311.2 347.9,1312.2 350.4,1311.3 352.9,1310.6 355.4,1307.7 357.9,1307.7 360.4,1315.2 362.9,1312.1 365.4,1311.4 367.9,1307.2 370.4,1308.5 372.9,1308.0 375.4,1307.3 377.9,1303.3 380.4,1302.4 382.9,1304.3 385.4,1304.4 387.9,1309.7 390.4,1307.2 392.9,1305.6 395.4,1308.1 397.9,1310.2 400.4,1314.1 402.9,1317.7 405.4,1318.6 407.9,1308.2 410.4,1310.4 412.9,1312.2 415.4,1313.6 417.9,1308.9 420.4,1307.7 422.9,1309.0 425.4,1310.5 427.9,1317.1 430.4,1319.4 432.9,1304.9 435.4,1303.2 437.9,1303.2 440.4,1316.2 442.9,1318.1 445.4,1308.3 447.9,1307.9 450.4,1311.9 452.9,1313.3 455.4,1312.9 457.9,1317.7 460.4,1316.3 462.9,1312.9 465.4,1305.5 467.9,1302.9 470.4,1303.9 472.9,1308.2 475.4,1311.4 477.9,1308.8 480.4,1304.7 482.9,1304.7 485.4,1304.5 487.9,1306.2 490.4,1315.1 492.9,1315.6 495.4,1307.8 497.9,1314.2 500.4,1312.1 502.9,1304.6 505.4,1303.3 507.9,1307.0 510.4,1309.1 512.9,1309.7 515.4,1304.8 517.9,1302.9 520.4,1302.5 522.9,1306.0 525.4,1305.2 527.9,1304.1 530.4,1303.7 532.9,1301.9 535.4,1304.1 537.9,1306.4 540.4,1304.4 542.9,1303.4 545.4,1303.4 547.9,1315.1 550.4,1310.8 552.9,1307.2 555.4,1305.3 557.9,1306.2 560.4,1310.5 562.9,1320.8 565.4,1308.8 567.9,1307.7 570.4,1306.1 572.9,1306.7 575.4,1315.1 577.9,1309.3 580.4,1309.4 582.9,1318.1 585.4,1317.6 587.9,1312.6 590.4,1313.2 592.9,1318.0 595.4,1313.6 597.9,1308.1 600.4,1307.0 602.9,1304.1 605.4,1306.1 607.9,1311.9 610.4,1307.7 612.9,1305.4 615.4,1305.5 617.9,1308.3 620.4,1311.2 622.9,1314.2 625.4,1315.0 627.9,1311.6 630.4,1311.4 632.9,1315.2 635.4,1314.4 637.9,1311.5 640.4,1310.8 642.9,1314.1 645.4,1314.2 647.9,1311.0 650.4,1309.5 652.9,1312.8 655.4,1312.9 657.9,1321.8 660.4,1320.6 662.9,1312.7 665.4,1312.3 667.9,1310.7 670.4,1309.3 672.9,1316.7 675.4,1309.2 677.9,1309.3 680.4,1305.8 682.9,1305.8 685.4,1310.9 687.9,1313.8 690.4,1313.6 692.9,1312.1 695.4,1311.3 697.9,1306.9 700.4,1304.4 702.9,1303.1 705.4,1314.4 707.9,1311.3 710.4,1312.6 712.9,1310.7 715.4,1308.0 717.9,1306.3 720.4,1306.1 722.9,1309.2 725.4,1305.0 727.9,1306.3 730.4,1310.7 732.9,1311.9 735.4,1310.1 737.9,1316.6 740.4,1316.7 742.9,1314.1 745.4,1310.6 747.9,1310.5 750.4,1311.8 752.9,1307.0 755.4,1302.7 757.9,1305.6 760.4,1311.3 762.9,1316.9 765.4,1317.5 767.9,1324.0 770.4,1323.1 772.9,1312.5 775.4,1308.1 777.9,1315.0 780.4,1306.2 782.9,1307.2 785.4,1308.4 787.9,1310.6 790.4,1311.2 792.9,1312.8 795.4,1314.8 797.9,1321.9 800.4,1315.5 802.9,1311.6 805.4,1311.6 807.9,1318.7 810.4,1322.9 812.9,1313.3 815.4,1314.3 817.9,1318.8 820.4,1324.5 822.9,1325.5 825.4,1326.9 827.9,1322.1 830.4,1320.9 832.9,1327.0 835.4,1324.5 837.9,1320.3 840.4,1312.1 842.9,1311.6 845.4,1319.5 847.9,1313.4 850.4,1310.5 852.9,1310.5 855.4,1313.3 857.9,1313.9 860.4,1313.2 862.9,1316.6 865.4,1323.1 867.9,1322.4 870.4,1317.1 872.9,1318.3 875.4,1320.0 877.9,1319.4 880.4,1316.7 882.9,1314.6 885.4,1317.2 887.9,1324.8 890.4,1321.5 892.9,1321.6 895.4,1317.4 897.9,1311.1 900.4,1311.7 902.9,1320.4 905.4,1325.3 907.9,1329.3 910.4,1323.6 912.9,1316.0 915.4,1313.8 917.9,1312.1 920.4,1312.2 922.9,1319.3 925.4,1316.6 927.9,1317.1 930.4,1326.8 932.9,1325.2 935.4,1313.4 937.9,1312.4 940.4,1314.3 942.9,1315.0 945.4,1315.0 947.9,1315.6 950.4,1315.3 952.9,1313.9 955.4,1311.5 957.9,1306.0 960.4,1306.3 962.9,1310.2 965.4,1312.3 967.9,1316.5 970.4,1316.7 972.9,1319.3 975.4,1315.3 977.9,1314.2 980.4,1315.0 982.9,1314.5 985.4,1314.5 987.9,1320.5 990.4,1318.6 992.9,1312.4 995.4,1313.1 997.9,1313.8 1000.4,1313.0 1002.9,1320.5 1005.4,1318.4 1007.9,1318.1 1007.9,1318.1 1007.9,1324.9 1006.7,1324.9 1005.4,1325.2 1004.2,1324.4 1002.9,1343.6 1001.7,1344.1 1000.4,1344.1 999.2,1344.4 997.9,1326.5 996.7,1325.5 995.4,1324.8 994.2,1324.8 992.9,1322.6 991.7,1321.9 990.4,1328.5 989.2,1328.5 987.9,1330.5 986.7,1332.0 985.4,1325.4 984.2,1324.2 982.9,1324.2 981.7,1338.7 980.4,1338.0 979.2,1336.8 977.9,1336.8 976.7,1331.5 975.4,1322.4 974.2,1321.5 972.9,1324.5 971.7,1324.5 970.4,1325.2 969.2,1325.9 967.9,1326.8 966.7,1326.8 965.4,1326.5 964.2,1355.9 962.9,1354.3 961.7,1352.4 960.4,1352.4 959.2,1331.8 957.9,1325.2 956.7,1325.9 955.4,1325.9 954.2,1327.2 952.9,1326.5 951.7,1328.0 950.4,1328.7 949.2,1328.7 947.9,1339.9 946.7,1339.5 945.4,1339.3 944.2,1402.7 942.9,1402.7 941.7,1403.0 940.4,1403.1 939.2,1323.9 937.9,1323.9 936.7,1354.7 935.4,1363.5 934.2,1363.8 932.9,1365.2 931.7,1365.2 930.4,1361.9 929.2,1362.8 927.9,1361.4 926.7,1361.4 925.4,1361.0 924.2,1359.8 922.9,1349.3 921.7,1347.5 920.4,1347.5 919.2,1321.2 917.9,1345.5 916.7,1389.0 915.4,1390.4 914.2,1390.4 912.9,1392.6 911.7,1333.0 910.4,1400.8 909.2,1400.8 907.9,1401.7 906.7,1402.7 905.4,1352.8 904.2,1350.8 902.9,1350.8 901.7,1348.4 900.4,1329.9 899.2,1329.4 897.9,1329.4 896.7,1335.0 895.4,1362.4 894.2,1380.5 892.9,1381.9 891.7,1381.9 890.4,1381.9 889.2,1346.0 887.9,1344.6 886.7,1344.6 885.4,1342.8 884.2,1338.2 882.9,1337.3 881.7,1337.6 880.4,1337.6 879.2,1328.8 877.9,1328.8 876.7,1329.6 875.4,1329.6 874.2,1328.6 872.9,1324.2 871.7,1331.5 870.4,1348.3 869.2,1348.3 867.9,1348.9 866.7,1349.6 865.4,1343.3 864.2,1341.3 862.9,1341.3 861.7,1329.3 860.4,1327.1 859.2,1324.8 857.9,1324.8 856.7,1351.9 855.4,1353.0 854.2,1353.8 852.9,1333.9 851.7,1333.9 850.4,1334.0 849.2,1329.3 847.9,1353.3 846.7,1353.3 845.4,1352.4 844.2,1351.3 842.9,1322.3 841.7,1318.6 840.4,1318.6 839.2,1343.7 837.9,1345.4 836.7,1348.2 835.4,1324.8 834.2,1324.8 832.9,1331.6 831.7,1346.3 830.4,1346.7 829.2,1346.7 827.9,1347.8 826.7,1333.2 825.4,1332.8 824.2,1331.3 822.9,1331.3 821.7,1324.9 820.4,1323.2 819.2,1323.2 817.9,1323.2 816.7,1327.3 815.4,1327.1 814.2,1326.3 812.9,1335.2 811.7,1335.2 810.4,1335.6 809.2,1335.0 807.9,1325.6 806.7,1325.6 805.4,1325.0 804.2,1325.2 802.9,1317.6 801.7,1318.9 800.4,1318.9 799.2,1324.6 797.9,1326.0 796.7,1325.6 795.4,1325.6 794.2,1324.7 792.9,1322.3 791.7,1332.7 790.4,1331.4 789.2,1331.4 787.9,1340.5 786.7,1339.7 785.4,1338.7 784.2,1332.5 782.9,1332.5 781.7,1331.4 780.4,1347.1 779.2,1346.5 777.9,1346.5 776.7,1347.0 775.4,1341.8 774.2,1328.2 772.9,1342.5 771.7,1342.5 770.4,1345.3 769.2,1368.1 767.9,1367.8 766.7,1367.8 765.4,1368.0 764.2,1363.5 762.9,1336.4 761.7,1335.2 760.4,1335.2 759.2,1433.7 757.9,1430.1 756.7,1427.2 755.4,1385.2 754.2,1385.2 752.9,1384.1 751.7,1386.1 750.4,1378.4 749.2,1378.4 747.9,1380.6 746.7,1380.5 745.4,1330.3 744.2,1335.5 742.9,1335.5 741.7,1356.3 740.4,1354.7 739.2,1354.6 737.9,1354.6 736.7,1349.8 735.4,1345.4 734.2,1346.2 732.9,1321.7 731.7,1321.7 730.4,1322.3 729.2,1321.6 727.9,1332.4 726.7,1332.4 725.4,1331.2 724.2,1350.4 722.9,1350.0 721.7,1350.5 720.4,1350.5 719.2,1329.4 717.9,1325.5 716.7,1325.7 715.4,1325.7 714.2,1322.1 712.9,1340.3 711.7,1341.7 710.4,1341.3 709.2,1341.3 707.9,1376.6 706.7,1374.4 705.4,1371.8 704.2,1350.2 702.9,1350.2 701.7,1350.9 700.4,1370.1 699.2,1372.6 697.9,1372.6 696.7,1373.5 695.4,1348.4 694.2,1342.4 692.9,1462.5 691.7,1462.5 690.4,1462.5 689.2,1462.5 687.9,1388.6 686.7,1388.6 685.4,1388.5 684.2,1429.0 682.9,1428.1 681.7,1428.1 680.4,1428.1 679.2,1350.7 677.9,1435.2 676.7,1435.0 675.4,1435.0 674.2,1434.9 672.9,1363.9 671.7,1353.8 670.4,1417.9 669.2,1417.9 667.9,1419.3 666.7,1442.9 665.4,1444.5 664.2,1444.9 662.9,1444.9 661.7,1392.4 660.4,1363.5 659.2,1377.2 657.9,1377.2 656.7,1375.6 655.4,1374.2 654.2,1393.0 652.9,1393.4 651.7,1393.4 650.4,1393.7 649.2,1352.7 647.9,1346.3 646.7,1346.3 645.4,1450.5 644.2,1450.9 642.9,1450.9 641.7,1388.6 640.4,1388.6 639.2,1389.4 637.9,1389.3 636.7,1352.0 635.4,1352.0 634.2,1366.4 632.9,1366.1 631.7,1366.4 630.4,1357.9 629.2,1357.9 627.9,1401.1 626.7,1400.5 625.4,1407.8 624.2,1408.0 622.9,1408.0 621.7,1407.2 620.4,1378.3 619.2,1376.4 617.9,1376.4 616.7,1332.8 615.4,1328.9 614.2,1384.8 612.9,1386.2 611.7,1386.2 610.4,1388.5 609.2,1382.4 607.9,1347.1 606.7,1347.1 605.4,1345.2 604.2,1336.0 602.9,1348.5 601.7,1348.3 600.4,1348.3 599.2,1347.5 597.9,1397.5 596.7,1399.0 595.4,1399.0 594.2,1400.4 592.9,1362.0 591.7,1362.9 590.4,1336.5 589.2,1336.5 587.9,1351.0 586.7,1350.5 585.4,1350.6 584.2,1352.5 582.9,1352.5 581.7,1352.0 580.4,1352.4 579.2,1342.4 577.9,1342.4 576.7,1357.2 575.4,1355.6 574.2,1354.5 572.9,1323.2 571.7,1323.2 570.4,1338.4 569.2,1338.6 567.9,1339.8 566.7,1339.8 565.4,1376.1 564.2,1377.9 562.9,1379.0 561.7,1357.0 560.4,1357.0 559.2,1354.6 557.9,1338.5 556.7,1367.2 555.4,1367.2 554.2,1367.4 552.9,1367.7 551.7,1351.5 550.4,1394.5 549.2,1394.5 547.9,1392.8 546.7,1390.3 545.4,1389.1 544.2,1400.8 542.9,1400.8 541.7,1400.9 540.4,1402.4 539.2,1386.3 537.9,1386.3 536.7,1387.1 535.4,1347.4 534.2,1346.1 532.9,1366.7 531.7,1366.7 530.4,1366.9 529.2,1367.1 527.9,1361.5 526.7,1361.5 525.4,1362.6 524.2,1362.7 522.9,1329.8 521.7,1362.2 520.4,1362.2 519.2,1361.5 517.9,1362.6 516.7,1339.8 515.4,1339.8 514.2,1342.1 512.9,1376.9 511.7,1409.2 510.4,1408.2 509.2,1408.2 507.9,1406.5 506.7,1339.9 505.4,1339.1 504.2,1338.5 502.9,1338.5 501.7,1337.1 500.4,1339.1 499.2,1341.2 497.9,1341.2 496.7,1338.8 495.4,1362.0 494.2,1361.8 492.9,1360.7 491.7,1360.7 490.4,1339.3 489.2,1327.8 487.9,1327.6 486.7,1327.6 485.4,1328.7 484.2,1343.6 482.9,1342.6 481.7,1342.6 480.4,1342.6 479.2,1327.8 477.9,1330.2 476.7,1341.8 475.4,1341.8 474.2,1342.6 472.9,1342.0 471.7,1342.4 470.4,1340.2 469.2,1340.2 467.9,1339.0 466.7,1365.3 465.4,1400.4 464.2,1401.9 462.9,1401.9 461.7,1404.3 460.4,1378.9 459.2,1387.7 457.9,1387.7 456.7,1387.5 455.4,1452.8 454.2,1451.5 452.9,1450.2 451.7,1450.2 450.4,1443.3 449.2,1442.8 447.9,1443.0 446.7,1443.0 445.4,1378.4 444.2,1379.3 442.9,1355.9 441.7,1350.7 440.4,1350.7 439.2,1342.3 437.9,1356.5 436.7,1356.4 435.4,1356.4 434.2,1356.4 432.9,1351.5 431.7,1360.9 430.4,1363.3 429.2,1363.3 427.9,1364.3 426.7,1349.7 425.4,1343.6 424.2,1375.1 422.9,1375.1 421.7,1373.5 420.4,1373.6 419.2,1343.9 417.9,1343.9 416.7,1367.9 415.4,1370.0 414.2,1370.8 412.9,1357.5 411.7,1357.5 410.4,1355.7 409.2,1359.6 407.9,1358.8 406.7,1358.8 405.4,1359.2 404.2,1351.0 402.9,1353.2 401.7,1342.0 400.4,1342.0 399.2,1354.3 397.9,1356.3 396.7,1354.2 395.4,1354.2 394.2,1351.6 392.9,1431.7 391.7,1429.9 390.4,1430.1 389.2,1430.1 387.9,1386.7 386.7,1353.1 385.4,1400.0 384.2,1400.0 382.9,1400.0 381.7,1400.1 380.4,1398.6 379.2,1404.5 377.9,1404.5 376.7,1406.1 375.4,1407.1 374.2,1340.3 372.9,1342.4 371.7,1342.4 370.4,1343.1 369.2,1362.7 367.9,1362.1 366.7,1362.1 365.4,1361.5 364.2,1360.1 362.9,1398.2 361.7,1399.1 360.4,1399.1 359.2,1399.9 357.9,1343.3 356.7,1343.7 355.4,1343.3 354.2,1343.3 352.9,1387.5 351.7,1390.6 350.4,1391.6 349.2,1391.6 347.9,1391.0 346.7,1363.2 345.4,1334.4 344.2,1367.8 342.9,1367.8 341.7,1366.9 340.4,1366.3 339.2,1352.0 337.9,1352.0 336.7,1352.2 335.4,1343.7" fill="#aac02c" stroke="#aac02c" stroke-width="1.6"/>
<polyline points="795.0,1310.0 796.0,1130.0 799.0,1126.0 796.0,1118.0 800.0,1110.0 797.0,1100.0 801.0,1092.0 798.0,1086.0 804.0,1080.0 806.5,1070.0 806.5,954.2 1105.5,954.2 1019.2,954.2 1019.2,1296.0 1018.0,1306.0 1014.0,1312.0 1008.0,1315.0" stroke="#aac02c" stroke-width="4.5"/>
<polygon points="335.4,1310.5 337.9,1310.4 340.4,1311.6 342.9,1320.9 345.4,1316.6 347.9,1314.9 350.4,1304.6 352.9,1303.9 355.4,1306.4 357.9,1311.0 360.4,1313.2 362.9,1313.8 365.4,1309.0 367.9,1307.5 370.4,1307.4 372.9,1309.9 375.4,1312.8 377.9,1313.5 380.4,1316.1 382.9,1312.8 385.4,1312.6 387.9,1321.2 390.4,1319.3 392.9,1308.7 395.4,1308.1 397.9,1312.1 400.4,1314.2 402.9,1313.4 405.4,1315.9 407.9,1315.8 410.4,1314.9 412.9,1312.2 415.4,1313.5 417.9,1313.7 420.4,1313.3 422.9,1315.3 425.4,1312.9 427.9,1306.4 430.4,1306.4 432.9,1311.8 435.4,1309.6 437.9,1309.9 440.4,1309.5 442.9,1313.1 445.4,1313.1 447.9,1313.5 450.4,1322.0 452.9,1320.6 455.4,1313.0 457.9,1313.5 460.4,1311.3 462.9,1310.0 465.4,1310.7 467.9,1310.9 470.4,1312.6 472.9,1315.5 475.4,1312.6 477.9,1312.2 480.4,1311.8 482.9,1311.1 485.4,1310.4 487.9,1313.9 490.4,1315.9 492.9,1314.6 495.4,1313.9 497.9,1319.4 500.4,1313.3 502.9,1314.1 505.4,1313.9 507.9,1314.9 510.4,1308.9 512.9,1308.9 515.4,1311.2 517.9,1310.4 520.4,1309.5 522.9,1307.7 525.4,1320.0 527.9,1318.4 530.4,1316.1 532.9,1311.1 535.4,1310.8 537.9,1309.9 540.4,1311.0 542.9,1310.2 545.4,1307.6 547.9,1313.9 550.4,1310.7 552.9,1307.6 555.4,1311.4 557.9,1313.0 560.4,1312.1 562.9,1310.9 565.4,1313.5 567.9,1306.1 570.4,1305.0 572.9,1306.4 575.4,1313.6 577.9,1320.6 580.4,1312.6 582.9,1309.1 585.4,1312.0 587.9,1316.2 590.4,1312.1 592.9,1311.2 595.4,1312.4 597.9,1308.4 600.4,1306.5 602.9,1308.3 605.4,1305.4 607.9,1309.0 610.4,1311.1 612.9,1312.4 615.4,1308.2 617.9,1308.9 620.4,1312.1 622.9,1319.7 625.4,1310.8 627.9,1307.8 630.4,1308.6 632.9,1309.2 635.4,1314.3 637.9,1308.6 640.4,1311.0 642.9,1317.5 645.4,1312.2 647.9,1311.9 650.4,1314.2 652.9,1318.9 655.4,1319.8 657.9,1318.5 660.4,1318.9 662.9,1310.1 665.4,1307.6 667.9,1314.8 670.4,1311.4 672.9,1311.7 675.4,1310.9 677.9,1308.6 680.4,1307.5 682.9,1306.7 685.4,1306.8 687.9,1307.1 690.4,1318.6 692.9,1320.0 695.4,1316.4 697.9,1313.6 700.4,1311.5 702.9,1302.6 705.4,1302.1 707.9,1306.5 710.4,1310.2 712.9,1310.4 715.4,1310.8 717.9,1309.6 720.4,1312.0 722.9,1310.1 725.4,1311.8 727.9,1311.9 730.4,1310.3 732.9,1310.6 735.4,1308.0 737.9,1306.4 740.4,1303.3 742.9,1301.4 745.4,1301.4 747.9,1305.3 750.4,1310.1 752.9,1312.3 755.4,1312.8 757.9,1311.9 760.4,1310.5 762.9,1313.0 765.4,1301.2 767.9,1301.2 770.4,1308.3 772.9,1308.4 775.4,1308.3 777.9,1318.0 780.4,1308.2 782.9,1307.0 785.4,1309.8 787.9,1307.7 790.4,1307.1 792.9,1302.9 795.4,1313.1 797.9,1314.5 800.4,1319.0 802.9,1320.9 805.4,1316.2 807.9,1319.2 810.4,1325.2 812.9,1326.6 815.4,1325.0 817.9,1316.9 820.4,1316.8 822.9,1313.5 825.4,1308.1 827.9,1306.8 830.4,1310.7 832.9,1306.0 835.4,1307.9 837.9,1316.3 840.4,1326.1 842.9,1326.9 845.4,1326.8 847.9,1325.0 849.2,1325.0 849.2,1333.5 847.9,1333.5 846.7,1350.0 845.4,1351.4 844.2,1384.8 842.9,1385.4 841.7,1385.4 840.4,1384.6 839.2,1356.3 837.9,1353.9 836.7,1350.9 835.4,1333.2 834.2,1333.2 832.9,1331.3 831.7,1330.9 830.4,1329.0 829.2,1318.6 827.9,1313.4 826.7,1313.4 825.4,1314.0 824.2,1330.7 822.9,1333.2 821.7,1334.9 820.4,1324.0 819.2,1324.0 817.9,1342.0 816.7,1343.3 815.4,1353.8 814.2,1354.5 812.9,1354.0 811.7,1354.0 810.4,1364.7 809.2,1364.2 807.9,1363.1 806.7,1329.0 805.4,1338.3 804.2,1338.3 802.9,1374.0 801.7,1374.1 800.4,1373.3 799.2,1360.7 797.9,1339.8 796.7,1339.8 795.4,1359.7 794.2,1358.3 792.9,1357.4 791.7,1344.5 790.4,1344.4 789.2,1344.4 787.9,1345.0 786.7,1340.1 785.4,1341.3 784.2,1333.7 782.9,1322.0 781.7,1322.0 780.4,1336.1 779.2,1368.1 777.9,1367.3 776.7,1366.8 775.4,1365.8 774.2,1365.8 772.9,1338.2 771.7,1372.8 770.4,1370.6 769.2,1369.1 767.9,1347.4 766.7,1347.4 765.4,1372.7 764.2,1404.6 762.9,1405.8 761.7,1407.0 760.4,1359.8 759.2,1359.8 757.9,1357.5 756.7,1360.0 755.4,1364.8 754.2,1364.9 752.9,1364.3 751.7,1364.3 750.4,1331.5 749.2,1331.8 747.9,1328.8 746.7,1326.3 745.4,1319.1 744.2,1319.1 742.9,1319.1 741.7,1320.0 740.4,1330.7 739.2,1331.7 737.9,1337.7 736.7,1337.7 735.4,1339.3 734.2,1364.2 732.9,1364.5 731.7,1365.6 730.4,1352.4 729.2,1352.4 727.9,1354.0 726.7,1352.7 725.4,1352.7 724.2,1408.7 722.9,1408.0 721.7,1408.0 720.4,1407.2 719.2,1342.3 717.9,1331.6 716.7,1368.3 715.4,1369.4 714.2,1369.4 712.9,1369.0 711.7,1380.4 710.4,1379.4 709.2,1377.9 707.9,1347.6 706.7,1347.6 705.4,1346.1 704.2,1345.6 702.9,1384.5 701.7,1387.0 700.4,1389.4 699.2,1389.4 697.9,1354.3 696.7,1355.5 695.4,1372.7 694.2,1372.8 692.9,1392.7 691.7,1392.7 690.4,1441.5 689.2,1440.6 687.9,1440.5 686.7,1407.5 685.4,1407.1 684.2,1407.1 682.9,1361.4 681.7,1361.8 680.4,1373.0 679.2,1434.6 677.9,1434.8 676.7,1434.8 675.4,1435.3 674.2,1440.2 672.9,1439.7 671.7,1439.8 670.4,1462.5 669.2,1462.5 667.9,1462.5 666.7,1462.5 665.4,1371.7 664.2,1372.5 662.9,1405.6 661.7,1405.6 660.4,1407.1 659.2,1407.0 657.9,1370.3 656.7,1423.0 655.4,1422.0 654.2,1422.0 652.9,1421.1 651.7,1363.3 650.4,1353.4 649.2,1354.6 647.9,1333.9 646.7,1333.9 645.4,1341.0 644.2,1341.0 642.9,1339.5 641.7,1341.8 640.4,1340.8 639.2,1340.8 637.9,1338.4 636.7,1324.8 635.4,1325.1 634.2,1387.1 632.9,1386.6 631.7,1386.6 630.4,1386.1 629.2,1351.2 627.9,1353.2 626.7,1365.9 625.4,1367.3 624.2,1367.3 622.9,1379.9 621.7,1380.2 620.4,1378.8 619.2,1374.0 617.9,1408.3 616.7,1408.3 615.4,1407.5 614.2,1407.4 612.9,1365.8 611.7,1401.4 610.4,1400.9 609.2,1400.9 607.9,1398.8 606.7,1402.5 605.4,1402.0 604.2,1402.2 602.9,1383.8 601.7,1383.8 600.4,1383.9 599.2,1424.4 597.9,1425.3 596.7,1424.3 595.4,1405.8 594.2,1405.8 592.9,1404.0 591.7,1403.9 590.4,1359.7 589.2,1418.3 587.9,1419.5 586.7,1419.5 585.4,1420.0 584.2,1345.0 582.9,1340.9 581.7,1359.0 580.4,1360.6 579.2,1360.6 577.9,1401.6 576.7,1401.4 575.4,1400.3 574.2,1380.8 572.9,1350.1 571.7,1350.1 570.4,1364.3 569.2,1364.2 567.9,1364.4 566.7,1358.7 565.4,1434.3 564.2,1434.3 562.9,1436.1 561.7,1437.3 560.4,1367.6 559.2,1366.9 557.9,1377.1 556.7,1377.1 555.4,1381.7 554.2,1403.5 552.9,1462.5 551.7,1462.5 550.4,1462.5 549.2,1462.5 547.9,1419.7 546.7,1419.4 545.4,1420.8 544.2,1391.9 542.9,1372.7 541.7,1372.7 540.4,1373.5 539.2,1359.3 537.9,1359.1 536.7,1368.9 535.4,1369.1 534.2,1369.1 532.9,1369.4 531.7,1410.6 530.4,1410.9 529.2,1411.5 527.9,1357.8 526.7,1357.8 525.4,1371.0 524.2,1369.9 522.9,1369.0 521.7,1327.1 520.4,1327.5 519.2,1327.5 517.9,1328.7 516.7,1321.6 515.4,1333.8 514.2,1333.1 512.9,1331.9 511.7,1331.9 510.4,1354.8 509.2,1355.4 507.9,1356.1 506.7,1350.9 505.4,1382.1 504.2,1382.7 502.9,1382.7 501.7,1382.0 500.4,1359.9 499.2,1410.2 497.9,1411.0 496.7,1411.0 495.4,1412.0 494.2,1413.9 492.9,1414.6 491.7,1421.4 490.4,1450.3 489.2,1448.3 487.9,1448.3 486.7,1447.6 485.4,1455.0 484.2,1455.6 482.9,1455.8 481.7,1455.8 480.4,1372.9 479.2,1374.0 477.9,1364.8 476.7,1365.7 475.4,1365.3 474.2,1358.8 472.9,1358.8 471.7,1358.8 470.4,1429.8 469.2,1429.6 467.9,1428.4 466.7,1428.4 465.4,1334.7 464.2,1355.0 462.9,1354.5 461.7,1383.2 460.4,1384.1 459.2,1397.4 457.9,1397.4 456.7,1397.6 455.4,1396.5 454.2,1335.3 452.9,1335.5 451.7,1335.5 450.4,1333.7 449.2,1332.2 447.9,1331.6 446.7,1336.7 445.4,1336.8 444.2,1352.1 442.9,1352.1 441.7,1349.8 440.4,1348.5 439.2,1339.0 437.9,1338.4 436.7,1338.4 435.4,1338.1 434.2,1322.4 432.9,1322.3 431.7,1321.3 430.4,1326.9 429.2,1326.9 427.9,1326.9 426.7,1327.9 425.4,1327.8 424.2,1329.0 422.9,1329.2 421.7,1329.2 420.4,1329.6 419.2,1344.3 417.9,1369.9 416.7,1370.2 415.4,1369.7 414.2,1362.2 412.9,1362.2 411.7,1363.5 410.4,1364.9 409.2,1351.6 407.9,1340.2 406.7,1340.2 405.4,1352.5 404.2,1352.4 402.9,1351.9 401.7,1368.3 400.4,1366.8 399.2,1394.7 397.9,1394.7 396.7,1394.4 395.4,1394.6 394.2,1396.2 392.9,1396.3 391.7,1396.3 390.4,1397.3 389.2,1403.1 387.9,1404.6 386.7,1404.7 385.4,1374.8 384.2,1374.9 382.9,1374.9 381.7,1376.1 380.4,1392.3 379.2,1392.6 377.9,1392.2 376.7,1392.2 375.4,1377.2 374.2,1376.6 372.9,1374.9 371.7,1373.6 370.4,1371.5 369.2,1371.5 367.9,1371.5 366.7,1355.5 365.4,1355.3 364.2,1403.6 362.9,1404.8 361.7,1404.8 360.4,1406.0 359.2,1434.0 357.9,1432.8 356.7,1430.3 355.4,1401.0 354.2,1345.6 352.9,1345.6 351.7,1348.4 350.4,1348.8 349.2,1391.2 347.9,1454.5 346.7,1454.5 345.4,1456.2 344.2,1458.8 342.9,1413.4 341.7,1412.8 340.4,1379.1 339.2,1369.7 337.9,1369.7 336.7,1386.3 335.4,1385.3" fill="#f2c11f" stroke="#f2c11f" stroke-width="1.6"/>
<polyline points="777.5,1310.0 778.0,1060.0 779.5,1042.0 783.0,1030.0 788.0,1023.5 794.7,1017.0 1105.5,1016.8 849.4,1016.8 849.4,1312.0" stroke="#f2c11f" stroke-width="4.5"/>
<polygon points="335.4,1308.0 337.9,1306.4 340.4,1311.1 342.9,1306.9 345.4,1305.4 347.9,1307.0 350.4,1308.4 352.9,1308.3 355.4,1310.8 357.9,1320.6 360.4,1312.3 362.9,1310.0 365.4,1311.6 367.9,1301.7 370.4,1302.7 372.9,1306.8 375.4,1308.3 377.9,1308.2 380.4,1304.1 382.9,1301.8 385.4,1303.4 387.9,1309.0 390.4,1309.8 392.9,1310.4 395.4,1308.6 397.9,1316.9 400.4,1311.5 402.9,1309.1 405.4,1308.4 407.9,1314.1 410.4,1318.2 412.9,1311.4 415.4,1308.0 417.9,1308.3 420.4,1312.3 422.9,1312.2 425.4,1312.4 427.9,1310.5 430.4,1311.1 432.9,1314.2 435.4,1310.2 437.9,1307.4 440.4,1308.1 442.9,1311.5 445.4,1311.0 447.9,1306.8 450.4,1306.6 452.9,1315.1 455.4,1314.7 457.9,1306.7 460.4,1309.3 462.9,1313.4 465.4,1316.4 467.9,1304.9 470.4,1304.2 472.9,1308.5 475.4,1308.9 477.9,1314.3 480.4,1313.0 482.9,1312.8 485.4,1314.3 487.9,1312.2 490.4,1308.5 492.9,1306.5 495.4,1305.3 497.9,1309.7 500.4,1310.5 502.9,1307.6 505.4,1310.9 507.9,1310.4 510.4,1303.5 512.9,1308.1 515.4,1309.8 517.9,1311.3 520.4,1312.3 522.9,1312.5 525.4,1313.1 527.9,1312.2 530.4,1319.0 532.9,1316.2 535.4,1316.8 537.9,1320.3 540.4,1315.3 542.9,1317.3 545.4,1320.4 547.9,1321.1 550.4,1309.4 552.9,1307.0 555.4,1308.3 557.9,1314.1 560.4,1314.2 562.9,1311.5 565.4,1312.1 567.9,1319.2 570.4,1317.0 572.9,1310.7 575.4,1308.3 577.9,1307.5 580.4,1309.3 582.9,1311.0 585.4,1309.8 587.9,1310.8 590.4,1315.9 592.9,1321.3 595.4,1313.8 597.9,1310.4 600.4,1306.8 602.9,1312.9 605.4,1311.5 607.9,1308.2 610.4,1307.9 612.9,1308.5 615.4,1310.6 617.9,1309.5 620.4,1313.1 622.9,1312.4 625.4,1307.9 627.9,1313.4 630.4,1314.3 632.9,1314.1 635.4,1312.3 637.9,1311.6 640.4,1304.0 642.9,1302.3 645.4,1303.4 647.9,1312.8 650.4,1305.1 652.9,1305.1 655.4,1308.8 657.9,1314.6 660.4,1315.0 662.9,1315.3 665.4,1313.7 667.9,1313.9 670.4,1323.8 672.9,1320.5 675.4,1318.1 677.9,1315.4 680.4,1310.2 682.9,1310.8 685.4,1310.7 687.9,1310.7 690.4,1313.5 692.9,1313.7 695.4,1321.1 697.9,1311.3 700.4,1310.6 702.9,1313.0 705.4,1314.1 707.9,1316.5 710.4,1308.3 712.9,1304.6 715.4,1305.2 717.9,1308.8 720.4,1310.5 722.9,1318.5 725.4,1311.2 727.9,1308.6 730.4,1304.9 732.9,1304.6 735.4,1307.3 737.9,1310.3 740.4,1309.5 742.9,1305.4 745.4,1311.7 747.9,1312.0 750.4,1311.0 752.9,1311.2 755.4,1308.6 757.9,1309.1 760.4,1309.2 762.9,1308.6 765.4,1307.3 767.9,1306.7 770.4,1311.6 772.9,1317.5 775.4,1313.9 777.9,1312.3 780.4,1308.1 782.9,1309.9 785.4,1312.8 787.9,1308.9 790.4,1308.5 792.9,1312.8 795.4,1308.9 797.9,1308.3 800.4,1312.6 802.9,1315.4 805.4,1313.8 807.9,1311.0 810.4,1310.8 812.9,1320.9 815.4,1323.0 817.9,1322.2 820.4,1322.3 822.9,1318.5 825.4,1318.3 827.9,1310.8 830.4,1308.9 832.9,1319.5 835.4,1315.7 837.9,1314.8 840.4,1313.2 842.9,1311.0 845.4,1312.8 847.9,1320.0 850.4,1321.5 852.9,1314.9 855.4,1313.1 857.9,1309.1 860.4,1309.8 862.9,1305.4 865.4,1305.2 867.9,1318.9 870.4,1313.9 872.9,1318.1 872.9,1318.1 872.9,1321.5 871.7,1340.9 870.4,1363.7 869.2,1359.5 867.9,1359.5 866.7,1356.8 865.4,1332.9 864.2,1314.6 862.9,1322.2 861.7,1322.2 860.4,1322.1 859.2,1323.4 857.9,1321.5 856.7,1331.9 855.4,1333.6 854.2,1333.6 852.9,1350.0 851.7,1349.9 850.4,1350.1 849.2,1360.7 847.9,1360.7 846.7,1359.4 845.4,1356.6 844.2,1317.4 842.9,1364.5 841.7,1364.5 840.4,1365.6 839.2,1367.0 837.9,1354.4 836.7,1333.9 835.4,1333.9 834.2,1352.8 832.9,1357.1 831.7,1355.9 830.4,1356.9 829.2,1356.9 827.9,1349.4 826.7,1351.1 825.4,1352.2 824.2,1384.0 822.9,1384.0 821.7,1384.1 820.4,1384.2 819.2,1404.2 817.9,1403.3 816.7,1402.0 815.4,1402.0 814.2,1360.4 812.9,1350.8 811.7,1365.6 810.4,1366.0 809.2,1366.0 807.9,1366.2 806.7,1368.4 805.4,1366.6 804.2,1367.7 802.9,1367.7 801.7,1368.1 800.4,1368.5 799.2,1345.3 797.9,1345.5 796.7,1345.5 795.4,1371.9 794.2,1462.5 792.9,1462.5 791.7,1462.5 790.4,1462.5 789.2,1351.0 787.9,1360.7 786.7,1361.5 785.4,1361.3 784.2,1361.3 782.9,1360.6 781.7,1403.0 780.4,1402.8 779.2,1406.4 777.9,1408.9 776.7,1408.9 775.4,1410.4 774.2,1405.0 772.9,1405.0 771.7,1403.1 770.4,1403.1 769.2,1386.0 767.9,1462.5 766.7,1462.5 765.4,1462.5 764.2,1462.5 762.9,1338.9 761.7,1375.5 760.4,1375.0 759.2,1375.0 757.9,1375.0 756.7,1336.6 755.4,1372.2 754.2,1372.2 752.9,1415.9 751.7,1415.9 750.4,1416.9 749.2,1418.4 747.9,1401.1 746.7,1373.5 745.4,1373.5 744.2,1373.4 742.9,1371.3 741.7,1371.3 740.4,1352.1 739.2,1407.3 737.9,1407.3 736.7,1406.6 735.4,1405.9 734.2,1368.9 732.9,1367.9 731.7,1367.9 730.4,1367.4 729.2,1341.3 727.9,1403.8 726.7,1406.4 725.4,1406.4 724.2,1408.7 722.9,1371.1 721.7,1369.8 720.4,1366.4 719.2,1366.4 717.9,1373.4 716.7,1372.0 715.4,1371.8 714.2,1329.0 712.9,1329.0 711.7,1331.0 710.4,1352.9 709.2,1354.0 707.9,1354.2 706.7,1354.2 705.4,1330.2 704.2,1321.7 702.9,1341.7 701.7,1342.3 700.4,1343.4 699.2,1343.4 697.9,1336.4 696.7,1337.1 695.4,1328.7 694.2,1322.2 692.9,1322.2 691.7,1321.4 690.4,1326.3 689.2,1327.0 687.9,1327.5 686.7,1327.5 685.4,1369.8 684.2,1369.4 682.9,1368.9 681.7,1417.8 680.4,1417.8 679.2,1418.6 677.9,1420.0 676.7,1379.0 675.4,1379.8 674.2,1379.8 672.9,1379.5 671.7,1351.4 670.4,1350.5 669.2,1346.6 667.9,1346.6 666.7,1340.8 665.4,1462.5 664.2,1462.5 662.9,1462.5 661.7,1462.5 660.4,1462.5 659.2,1462.5 657.9,1368.9 656.7,1365.8 655.4,1331.7 654.2,1331.7 652.9,1332.7 651.7,1332.2 650.4,1331.7 649.2,1337.7 647.9,1337.7 646.7,1337.4 645.4,1337.8 644.2,1328.4 642.9,1324.7 641.7,1324.7 640.4,1333.8 639.2,1343.8 637.9,1345.8 636.7,1346.5 635.4,1346.5 634.2,1338.3 632.9,1394.8 631.7,1394.2 630.4,1393.4 629.2,1393.4 627.9,1330.5 626.7,1340.1 625.4,1337.8 624.2,1365.2 622.9,1364.9 621.7,1364.9 620.4,1365.6 619.2,1357.4 617.9,1389.3 616.7,1390.4 615.4,1390.4 614.2,1420.9 612.9,1462.5 611.7,1462.5 610.4,1462.5 609.2,1462.5 607.9,1369.0 606.7,1348.5 605.4,1348.0 604.2,1330.3 602.9,1330.3 601.7,1343.2 600.4,1343.8 599.2,1345.1 597.9,1342.7 596.7,1342.7 595.4,1344.0 594.2,1344.1 592.9,1341.0 591.7,1340.8 590.4,1340.8 589.2,1340.4 587.9,1333.1 586.7,1330.1 585.4,1345.7 584.2,1346.9 582.9,1346.9 581.7,1346.9 580.4,1342.0 579.2,1336.2 577.9,1332.0 576.7,1332.0 575.4,1334.9 574.2,1335.4 572.9,1337.3 571.7,1336.1 570.4,1336.1 569.2,1377.3 567.9,1377.2 566.7,1375.7 565.4,1346.9 564.2,1346.9 562.9,1344.9 561.7,1349.0 560.4,1348.2 559.2,1348.4 557.9,1348.4 556.7,1396.7 555.4,1395.7 554.2,1428.1 552.9,1428.0 551.7,1428.0 550.4,1429.6 549.2,1462.5 547.9,1462.5 546.7,1462.5 545.4,1462.5 544.2,1462.5 542.9,1462.5 541.7,1355.8 540.4,1390.1 539.2,1389.9 537.9,1389.9 536.7,1412.0 535.4,1411.6 534.2,1411.0 532.9,1343.6 531.7,1343.6 530.4,1354.3 529.2,1354.6 527.9,1432.8 526.7,1433.6 525.4,1433.6 524.2,1434.1 522.9,1363.4 521.7,1363.3 520.4,1363.2 519.2,1363.2 517.9,1338.5 516.7,1365.7 515.4,1373.0 514.2,1371.7 512.9,1371.7 511.7,1371.0 510.4,1335.2 509.2,1335.5 507.9,1347.4 506.7,1347.9 505.4,1347.9 504.2,1348.9 502.9,1362.6 501.7,1362.9 500.4,1362.7 499.2,1362.7 497.9,1338.1 496.7,1337.0 495.4,1323.7 494.2,1325.5 492.9,1325.5 491.7,1338.3 490.4,1339.3 489.2,1339.5 487.9,1338.1 486.7,1338.1 485.4,1339.3 484.2,1367.9 482.9,1367.5 481.7,1367.7 480.4,1367.7 479.2,1356.1 477.9,1337.4 476.7,1336.6 475.4,1353.1 474.2,1353.1 472.9,1352.7 471.7,1384.1 470.4,1382.3 469.2,1381.8 467.9,1340.2 466.7,1340.2 465.4,1339.9 464.2,1327.8 462.9,1378.6 461.7,1378.6 460.4,1378.6 459.2,1377.7 457.9,1382.2 456.7,1380.5 455.4,1380.2 454.2,1380.2 452.9,1381.4 451.7,1381.8 450.4,1382.1 449.2,1365.7 447.9,1365.7 446.7,1367.6 445.4,1372.8 444.2,1373.1 442.9,1372.2 441.7,1372.2 440.4,1352.9 439.2,1416.8 437.9,1416.9 436.7,1449.4 435.4,1449.4 434.2,1449.7 432.9,1451.0 431.7,1387.9 430.4,1387.8 429.2,1361.1 427.9,1361.1 426.7,1409.5 425.4,1409.1 424.2,1409.2 422.9,1368.2 421.7,1368.2 420.4,1368.3 419.2,1353.2 417.9,1371.2 416.7,1370.9 415.4,1370.9 414.2,1371.2 412.9,1360.4 411.7,1360.6 410.4,1351.9 409.2,1351.9 407.9,1351.3 406.7,1351.5 405.4,1341.9 404.2,1342.6 402.9,1342.6 401.7,1329.6 400.4,1349.3 399.2,1348.3 397.9,1347.1 396.7,1347.1 395.4,1368.5 394.2,1368.9 392.9,1370.3 391.7,1341.0 390.4,1335.9 389.2,1335.9 387.9,1333.1 386.7,1331.0 385.4,1330.9 384.2,1362.5 382.9,1362.5 381.7,1362.7 380.4,1364.0 379.2,1338.2 377.9,1366.3 376.7,1366.3 375.4,1366.4 374.2,1365.1 372.9,1353.8 371.7,1352.6 370.4,1352.6 369.2,1342.6 367.9,1367.8 366.7,1369.8 365.4,1402.9 364.2,1402.9 362.9,1404.3 361.7,1405.4 360.4,1370.7 359.2,1361.8 357.9,1361.8 356.7,1354.5 355.4,1356.7 354.2,1407.7 352.9,1406.9 351.7,1434.4 350.4,1434.4 349.2,1433.6 347.9,1433.8 346.7,1423.3 345.4,1361.4 344.2,1361.4 342.9,1359.4 341.7,1404.9 340.4,1404.4 339.2,1404.0 337.9,1404.0 336.7,1327.6 335.4,1328.2" fill="#f1a321" stroke="#f1a321" stroke-width="1.6"/>
<polyline points="809.5,1310.0 809.5,1080.3 1105.5,1080.3 872.9,1080.3 872.9,1312.0" stroke="#f1a321" stroke-width="4.5"/>
<polygon points="335.4,1310.8 337.9,1311.1 340.4,1310.8 342.9,1308.9 345.4,1304.5 347.9,1309.9 350.4,1306.3 352.9,1307.1 355.4,1304.0 357.9,1306.6 360.4,1306.4 362.9,1302.6 365.4,1309.3 367.9,1304.8 370.4,1307.4 372.9,1313.5 375.4,1307.7 377.9,1306.9 380.4,1306.5 382.9,1305.1 385.4,1305.3 387.9,1304.3 390.4,1303.4 392.9,1304.4 395.4,1305.0 397.9,1307.5 400.4,1313.0 402.9,1320.3 405.4,1317.4 407.9,1315.2 410.4,1313.1 412.9,1314.4 415.4,1311.8 417.9,1312.8 420.4,1315.6 422.9,1318.1 425.4,1316.6 427.9,1304.4 430.4,1305.4 432.9,1304.2 435.4,1304.9 437.9,1311.6 440.4,1308.4 442.9,1310.3 445.4,1309.7 447.9,1307.7 450.4,1312.3 452.9,1313.0 455.4,1309.8 457.9,1311.5 460.4,1310.0 462.9,1309.7 465.4,1309.6 467.9,1310.4 470.4,1314.9 472.9,1318.0 475.4,1311.3 477.9,1309.5 480.4,1307.8 482.9,1307.6 485.4,1308.0 487.9,1310.2 490.4,1305.8 492.9,1303.4 495.4,1303.4 497.9,1307.6 500.4,1300.8 502.9,1304.7 505.4,1308.7 507.9,1311.5 510.4,1309.9 512.9,1309.7 515.4,1312.2 517.9,1315.1 520.4,1313.1 522.9,1306.5 525.4,1302.5 527.9,1303.7 530.4,1306.3 532.9,1309.2 535.4,1319.6 537.9,1319.1 540.4,1312.0 542.9,1310.3 545.4,1309.9 547.9,1305.9 550.4,1307.4 552.9,1311.0 555.4,1312.3 557.9,1310.8 560.4,1306.2 562.9,1303.1 565.4,1302.8 567.9,1301.5 570.4,1302.7 572.9,1307.0 575.4,1308.4 577.9,1308.0 580.4,1309.8 582.9,1309.3 585.4,1306.3 587.9,1309.3 590.4,1318.5 592.9,1307.9 595.4,1307.5 597.9,1311.2 600.4,1317.5 602.9,1306.9 605.4,1302.7 607.9,1301.6 610.4,1303.2 612.9,1304.2 615.4,1305.9 617.9,1304.0 620.4,1302.0 622.9,1306.9 625.4,1302.2 627.9,1302.1 630.4,1303.3 632.9,1312.6 635.4,1304.3 637.9,1304.5 640.4,1304.1 642.9,1301.6 645.4,1300.6 647.9,1303.2 650.4,1302.7 652.9,1302.9 655.4,1312.0 657.9,1307.0 660.4,1302.5 662.9,1303.7 665.4,1305.4 667.9,1307.2 670.4,1314.4 672.9,1307.6 675.4,1306.8 677.9,1312.8 680.4,1313.3 682.9,1309.6 685.4,1309.0 687.9,1311.1 690.4,1308.4 692.9,1304.7 695.4,1301.7 697.9,1302.8 700.4,1308.7 702.9,1305.5 705.4,1305.0 707.9,1303.7 710.4,1303.4 712.9,1308.8 715.4,1309.3 717.9,1306.8 720.4,1308.7 722.9,1309.6 725.4,1312.8 727.9,1315.6 730.4,1314.2 732.9,1309.5 735.4,1309.3 737.9,1310.7 740.4,1310.1 742.9,1315.9 745.4,1313.0 747.9,1310.8 750.4,1308.7 752.9,1302.8 755.4,1303.5 757.9,1307.2 760.4,1308.5 762.9,1318.4 765.4,1308.4 767.9,1308.6 770.4,1313.6 772.9,1312.3 775.4,1312.0 777.9,1313.7 780.4,1311.1 782.9,1317.9 785.4,1318.9 787.9,1312.4 790.4,1313.7 792.9,1313.6 795.4,1313.3 797.9,1315.5 800.4,1313.5 802.9,1315.6 805.4,1312.3 807.9,1316.0 810.4,1307.8 812.9,1308.2 815.4,1309.5 817.9,1310.4 820.4,1319.5 822.9,1315.2 825.4,1309.9 827.9,1310.4 830.4,1314.4 832.9,1319.9 835.4,1324.3 837.9,1323.9 840.4,1323.5 842.9,1312.3 845.4,1319.2 847.9,1318.3 850.4,1313.4 852.9,1318.9 855.4,1324.4 857.9,1327.4 860.4,1324.7 862.9,1312.3 865.4,1324.4 867.9,1325.0 870.4,1317.1 872.9,1314.2 875.4,1312.2 877.9,1315.1 880.4,1321.1 882.9,1322.6 885.4,1314.3 887.9,1311.3 890.4,1311.3 892.9,1320.6 895.4,1318.7 897.9,1317.2 900.4,1321.1 902.9,1320.1 905.4,1324.6 907.9,1323.2 910.4,1314.9 912.9,1315.0 915.4,1311.9 917.9,1316.8 920.4,1311.0 922.9,1311.8 925.4,1323.6 927.9,1319.3 930.4,1319.0 932.9,1318.7 935.4,1315.6 937.9,1313.6 940.4,1315.9 942.9,1313.6 945.4,1320.9 947.9,1322.5 950.4,1324.5 952.9,1316.0 955.4,1316.2 957.9,1316.9 960.4,1326.8 962.9,1317.7 965.4,1317.9 967.9,1317.1 970.4,1320.8 972.9,1322.4 975.4,1318.4 977.9,1319.7 980.4,1320.3 982.9,1324.5 985.4,1322.6 987.9,1315.8 990.4,1321.9 992.9,1315.7 995.4,1313.2 997.9,1313.3 1000.4,1319.8 1002.9,1315.5 1005.4,1315.6 1007.9,1310.1 1010.4,1313.3 1012.9,1313.3 1015.4,1312.3 1017.9,1312.8 1020.4,1312.3 1022.9,1317.1 1025.4,1318.9 1025.4,1318.9 1025.4,1350.8 1024.2,1350.3 1022.9,1342.0 1021.7,1341.9 1020.4,1331.2 1019.2,1331.2 1017.9,1323.6 1016.7,1374.0 1015.4,1373.5 1014.2,1373.2 1012.9,1329.9 1011.7,1366.5 1010.4,1366.5 1009.2,1366.2 1007.9,1462.5 1006.7,1462.5 1005.4,1462.5 1004.2,1399.0 1002.9,1353.6 1001.7,1372.3 1000.4,1372.3 999.2,1371.8 997.9,1370.9 996.7,1373.2 995.4,1373.4 994.2,1374.9 992.9,1350.2 991.7,1350.2 990.4,1350.2 989.2,1350.4 987.9,1390.7 986.7,1391.4 985.4,1391.7 984.2,1376.6 982.9,1376.6 981.7,1378.5 980.4,1379.2 979.2,1369.8 977.9,1368.1 976.7,1334.0 975.4,1330.6 974.2,1330.6 972.9,1344.3 971.7,1344.7 970.4,1345.5 969.2,1330.4 967.9,1330.6 966.7,1322.6 965.4,1338.2 964.2,1338.2 962.9,1337.9 961.7,1338.5 960.4,1351.9 959.2,1351.7 957.9,1350.1 956.7,1328.3 955.4,1328.3 954.2,1328.4 952.9,1328.3 951.7,1337.3 950.4,1337.6 949.2,1336.6 947.9,1334.1 946.7,1334.1 945.4,1333.1 944.2,1332.3 942.9,1332.1 941.7,1320.4 940.4,1322.2 939.2,1323.2 937.9,1323.2 936.7,1325.5 935.4,1342.2 934.2,1342.6 932.9,1342.0 931.7,1336.8 930.4,1325.9 929.2,1339.3 927.9,1339.3 926.7,1342.6 925.4,1349.1 924.2,1348.1 922.9,1346.7 921.7,1334.4 920.4,1333.5 919.2,1333.5 917.9,1363.0 916.7,1364.3 915.4,1365.5 914.2,1343.4 912.9,1363.6 911.7,1363.5 910.4,1363.5 909.2,1363.6 907.9,1414.8 906.7,1427.8 905.4,1428.5 904.2,1429.0 902.9,1375.8 901.7,1375.8 900.4,1386.2 899.2,1387.3 897.9,1386.9 896.7,1336.0 895.4,1374.0 894.2,1372.7 892.9,1382.3 891.7,1382.3 890.4,1381.7 889.2,1381.9 887.9,1319.4 886.7,1362.1 885.4,1414.2 884.2,1414.0 882.9,1414.0 881.7,1412.8 880.4,1378.5 879.2,1351.7 877.9,1352.0 876.7,1351.3 875.4,1339.0 874.2,1339.0 872.9,1340.9 871.7,1341.3 870.4,1339.5 869.2,1374.9 867.9,1383.2 866.7,1382.6 865.4,1382.6 864.2,1381.3 862.9,1374.2 861.7,1376.9 860.4,1377.8 859.2,1379.3 857.9,1356.1 856.7,1355.2 855.4,1355.2 854.2,1341.8 852.9,1344.6 851.7,1343.3 850.4,1350.3 849.2,1349.9 847.9,1350.1 846.7,1350.1 845.4,1343.6 844.2,1345.9 842.9,1347.3 841.7,1344.6 840.4,1363.8 839.2,1364.3 837.9,1364.3 836.7,1365.7 835.4,1365.7 834.2,1406.1 832.9,1403.7 831.7,1402.1 830.4,1327.3 829.2,1327.3 827.9,1324.3 826.7,1322.5 825.4,1322.1 824.2,1322.6 822.9,1378.4 821.7,1381.4 820.4,1381.7 819.2,1381.7 817.9,1381.6 816.7,1334.8 815.4,1342.2 814.2,1342.1 812.9,1388.3 811.7,1387.8 810.4,1387.8 809.2,1386.9 807.9,1364.1 806.7,1345.7 805.4,1332.2 804.2,1338.8 802.9,1340.4 801.7,1340.4 800.4,1343.2 799.2,1372.9 797.9,1373.2 796.7,1373.5 795.4,1331.7 794.2,1347.0 792.9,1347.0 791.7,1346.8 790.4,1367.5 789.2,1392.3 787.9,1391.5 786.7,1390.3 785.4,1460.1 784.2,1461.2 782.9,1461.2 781.7,1462.2 780.4,1406.9 779.2,1407.1 777.9,1462.3 776.7,1461.9 775.4,1460.6 774.2,1460.6 772.9,1378.7 771.7,1356.6 770.4,1351.4 769.2,1342.8 767.9,1354.1 766.7,1361.9 765.4,1361.9 764.2,1378.8 762.9,1412.1 761.7,1410.9 760.4,1432.3 759.2,1431.2 757.9,1430.5 756.7,1430.5 755.4,1419.3 754.2,1418.3 752.9,1336.8 751.7,1340.1 750.4,1343.0 749.2,1353.0 747.9,1353.1 746.7,1353.1 745.4,1408.2 744.2,1407.7 742.9,1407.0 741.7,1384.5 740.4,1364.7 739.2,1365.3 737.9,1365.3 736.7,1365.9 735.4,1352.8 734.2,1336.0 732.9,1340.3 731.7,1341.0 730.4,1356.7 729.2,1356.7 727.9,1357.0 726.7,1358.7 725.4,1363.7 724.2,1364.4 722.9,1403.6 721.7,1403.2 720.4,1403.2 719.2,1402.4 717.9,1413.4 716.7,1412.6 715.4,1410.3 714.2,1406.2 712.9,1404.7 711.7,1405.0 710.4,1405.0 709.2,1338.7 707.9,1339.1 706.7,1340.3 705.4,1334.6 704.2,1332.5 702.9,1344.9 701.7,1344.9 700.4,1344.1 699.2,1343.5 697.9,1316.7 696.7,1328.0 695.4,1327.1 694.2,1426.8 692.9,1426.8 691.7,1427.1 690.4,1428.0 689.2,1355.3 687.9,1335.7 686.7,1344.3 685.4,1344.8 684.2,1344.8 682.9,1367.9 681.7,1367.8 680.4,1367.9 679.2,1348.5 677.9,1347.5 676.7,1347.4 675.4,1379.7 674.2,1379.7 672.9,1380.5 671.7,1381.0 670.4,1360.7 669.2,1355.6 667.9,1331.7 666.7,1415.1 665.4,1415.1 664.2,1413.3 662.9,1411.9 661.7,1373.6 660.4,1413.0 659.2,1413.0 657.9,1413.0 656.7,1413.0 655.4,1367.4 654.2,1368.3 652.9,1368.2 651.7,1368.0 650.4,1341.7 649.2,1341.7 647.9,1341.7 646.7,1339.6 645.4,1371.4 644.2,1371.4 642.9,1372.1 641.7,1347.0 640.4,1349.5 639.2,1349.9 637.9,1349.9 636.7,1350.8 635.4,1350.6 634.2,1349.5 632.9,1337.7 631.7,1337.6 630.4,1326.0 629.2,1326.0 627.9,1360.2 626.7,1360.1 625.4,1360.2 624.2,1368.2 622.9,1381.6 621.7,1381.4 620.4,1381.4 619.2,1382.4 617.9,1352.9 616.7,1376.8 615.4,1392.8 614.2,1391.6 612.9,1390.8 611.7,1390.8 610.4,1318.4 609.2,1343.6 607.9,1393.8 606.7,1393.8 605.4,1395.0 604.2,1342.0 602.9,1366.7 601.7,1366.7 600.4,1367.2 599.2,1366.2 597.9,1376.8 596.7,1424.3 595.4,1424.1 594.2,1424.5 592.9,1424.5 591.7,1372.8 590.4,1374.6 589.2,1375.1 587.9,1370.7 586.7,1398.8 585.4,1397.3 584.2,1397.3 582.9,1395.9 581.7,1340.2 580.4,1339.9 579.2,1339.4 577.9,1342.2 576.7,1374.8 575.4,1374.8 574.2,1374.5 572.9,1392.5 571.7,1391.8 570.4,1391.5 569.2,1348.6 567.9,1353.2 566.7,1353.2 565.4,1353.2 564.2,1353.2 562.9,1330.1 561.7,1330.4 560.4,1387.6 559.2,1389.1 557.9,1390.1 556.7,1390.1 555.4,1377.6 554.2,1377.5 552.9,1377.2 551.7,1367.4 550.4,1366.4 549.2,1411.3 547.9,1411.3 546.7,1409.3 545.4,1409.0 544.2,1382.5 542.9,1382.8 541.7,1373.0 540.4,1389.6 539.2,1389.6 537.9,1391.4 536.7,1392.4 535.4,1389.7 534.2,1374.5 532.9,1381.3 531.7,1462.5 530.4,1462.5 529.2,1462.5 527.9,1462.5 526.7,1387.1 525.4,1365.3 524.2,1365.3 522.9,1360.8 521.7,1362.3 520.4,1362.3 519.2,1363.7 517.9,1346.3 516.7,1462.5 515.4,1462.5 514.2,1462.5 512.9,1462.5 511.7,1462.5 510.4,1462.5 509.2,1370.0 507.9,1348.1 506.7,1366.5 505.4,1365.0 504.2,1364.0 502.9,1364.0 501.7,1357.3 500.4,1331.5 499.2,1331.5 497.9,1343.3 496.7,1351.8 495.4,1353.0 494.2,1409.7 492.9,1409.7 491.7,1410.3 490.4,1409.7 489.2,1320.7 487.9,1321.1 486.7,1323.3 485.4,1337.2 484.2,1337.2 482.9,1339.5 481.7,1344.4 480.4,1343.7 479.2,1343.8 477.9,1325.0 476.7,1345.6 475.4,1345.6 474.2,1346.2 472.9,1351.0 471.7,1351.9 470.4,1353.1 469.2,1337.0 467.9,1338.5 466.7,1338.5 465.4,1337.7 464.2,1340.6 462.9,1340.8 461.7,1340.2 460.4,1345.9 459.2,1346.6 457.9,1346.8 456.7,1346.8 455.4,1341.3 454.2,1341.7 452.9,1341.1 451.7,1341.2 450.4,1350.7 449.2,1351.4 447.9,1351.4 446.7,1352.4 445.4,1339.0 444.2,1334.6 442.9,1330.6 441.7,1329.7 440.4,1331.3 439.2,1331.3 437.9,1331.1 436.7,1329.3 435.4,1328.3 434.2,1365.9 432.9,1373.2 431.7,1373.1 430.4,1373.1 429.2,1372.8 427.9,1419.4 426.7,1420.5 425.4,1421.5 424.2,1393.5 422.9,1395.1 421.7,1397.1 420.4,1397.1 419.2,1370.3 417.9,1370.0 416.7,1379.6 415.4,1379.8 414.2,1379.4 412.9,1358.4 411.7,1358.4 410.4,1341.6 409.2,1343.2 407.9,1346.1 406.7,1360.2 405.4,1359.6 404.2,1376.4 402.9,1376.4 401.7,1375.4 400.4,1373.1 399.2,1345.0 397.9,1358.4 396.7,1357.6 395.4,1357.5 394.2,1357.5 392.9,1317.3 391.7,1332.3 390.4,1354.8 389.2,1355.3 387.9,1355.7 386.7,1323.1 385.4,1343.7 384.2,1343.7 382.9,1344.7 381.7,1379.7 380.4,1380.2 379.2,1380.9 377.9,1346.0 376.7,1345.4 375.4,1345.4 374.2,1355.1 372.9,1356.0 371.7,1355.9 370.4,1344.6 369.2,1331.7 367.9,1329.5 366.7,1329.5 365.4,1343.0 364.2,1341.7 362.9,1341.6 361.7,1323.6 360.4,1324.5 359.2,1369.9 357.9,1369.9 356.7,1370.2 355.4,1371.0 354.2,1359.9 352.9,1335.3 351.7,1347.9 350.4,1347.1 349.2,1346.5 347.9,1346.5 346.7,1343.5 345.4,1343.3 344.2,1334.0 342.9,1363.3 341.7,1364.1 340.4,1364.4 339.2,1364.4 337.9,1335.2 336.7,1361.0 335.4,1360.9" fill="#f57e20" stroke="#f57e20" stroke-width="1.6"/>
<polyline points="789.0,1310.0 790.0,1290.0 787.0,1282.0 791.0,1272.0 787.5,1262.0 791.0,1252.0 788.5,1244.0 793.0,1238.0 794.8,1225.0 794.8,1156.0 796.5,1149.0 801.0,1144.6 1105.5,1144.6 1048.5,1144.6 1048.5,1256.0 1047.6,1262.3 1042.0,1266.0 1039.7,1271.7 1036.0,1274.0 1035.0,1279.6 1034.0,1292.0 1033.4,1303.3 1031.5,1318.0 1030.2,1331.8 1028.0,1340.0 1026.0,1352.0" stroke="#f57e20" stroke-width="4.5"/>
<path d="M794,1128 L796,1120 L793.5,1108 L796,1096 L794,1088 L799,1084 L804,1082 L805,1092 L803,1104 L804.5,1116 L802,1126 L798,1131 Z" fill="#aac02c" stroke="#aac02c" stroke-width="2" stroke-linejoin="round"/>
<path d="M785,1303 L786,1280 L784.5,1262 L787,1247 L790,1243 L793,1246 L794.5,1262 L793,1280 L795,1300 L792,1310 L787,1310 Z" fill="#f57e20" stroke="#f57e20" stroke-width="2" stroke-linejoin="round"/>
</g>
<g stroke="#161616" stroke-width="4.2" fill="none">
<rect x="238.6" y="700.7" width="961.7" height="779.2"/>
<path d="M238.6,1461.7 h9.5 M238.6,1398.2 h18.0 M238.6,1334.7 h9.5 M238.6,1271.3 h18.0 M238.6,1207.8 h9.5 M238.6,1144.3 h18.0 M238.6,1080.8 h9.5 M238.6,1017.4 h18.0 M238.6,953.9 h9.5 M238.6,890.4 h18.0 M238.6,827.0 h9.5 M238.6,763.5 h18.0 M335.4,1479.9 v-18.0 M431.4,1479.9 v-9.5 M527.3,1479.9 v-18.0 M623.2,1479.9 v-9.5 M719.2,1479.9 v-18.0 M815.2,1479.9 v-9.5 M911.1,1479.9 v-18.0 M1007.1,1479.9 v-9.5 M1103.0,1479.9 v-18.0"/>
</g>
<text x="222.3" y="1422.4" text-anchor="end" fill="#0e0e0e"><tspan font-size="69">10</tspan><tspan font-size="41" dy="-33">-13</tspan></text>
<text x="222.3" y="1295.5" text-anchor="end" fill="#0e0e0e"><tspan font-size="69">10</tspan><tspan font-size="41" dy="-33">-11</tspan></text>
<text x="222.3" y="1168.5" text-anchor="end" fill="#0e0e0e"><tspan font-size="69">10</tspan><tspan font-size="41" dy="-33">-9</tspan></text>
<text x="222.3" y="1041.6" text-anchor="end" fill="#0e0e0e"><tspan font-size="69">10</tspan><tspan font-size="41" dy="-33">-7</tspan></text>
<text x="222.3" y="914.6" text-anchor="end" fill="#0e0e0e"><tspan font-size="69">10</tspan><tspan font-size="41" dy="-33">-5</tspan></text>
<text x="222.3" y="787.7" text-anchor="end" fill="#0e0e0e"><tspan font-size="69">10</tspan><tspan font-size="41" dy="-33">-3</tspan></text>
<text x="332.8" y="1550.0" font-size="68.0" text-anchor="middle" font-weight="normal" fill="#0e0e0e">-1.0</text>
<text x="525.5" y="1550.0" font-size="68.0" text-anchor="middle" font-weight="normal" fill="#0e0e0e">-0.5</text>
<text x="717.5" y="1550.0" font-size="68.0" text-anchor="middle" font-weight="normal" fill="#0e0e0e">0.0</text>
<text x="911.5" y="1550.0" font-size="68.0" text-anchor="middle" font-weight="normal" fill="#0e0e0e">0.5</text>
<text x="1104.6" y="1550.0" font-size="68.0" text-anchor="middle" font-weight="normal" fill="#0e0e0e">1.0</text>
<text x="718.5" y="1621.5" font-size="79.0" text-anchor="middle" font-weight="normal" fill="#0e0e0e" textLength="407" lengthAdjust="spacingAndGlyphs">Voltage (V)</text>
<text transform="translate(75.7,1086.3) rotate(-90)" text-anchor="middle" font-size="80.5" fill="#0e0e0e">|Current| (A)</text>
<text x="1164.5" y="778.3" text-anchor="end" fill="#0e0e0e" textLength="415" lengthAdjust="spacingAndGlyphs"><tspan font-size="81">Ag/HfO</tspan><tspan font-size="55" dy="18">2</tspan><tspan font-size="81" dy="-18">/Pt</tspan></text>
<g clip-path="url(#clipd)">
<polygon points="1433.6,1353.2 1678.0,1353.2 1691.6,1357.3 1790.6,1363.7 1865.9,1368.0 1898.2,1371.7 1919.7,1376.6 1941.2,1390.6 1962.7,1405.7 1984.3,1418.6 2005.8,1426.7 2038.0,1431.9 2050.0,1437.2 1433.6,1437.2" fill="#aafbf8"/>
<line x1="1433.6" y1="1391.5" x2="2407" y2="1424.3" stroke="#0c7d14" stroke-width="5.3" stroke-dasharray="15.2 6.5"/>
<line x1="1436" y1="1425.3" x2="2407" y2="1460.5" stroke="#0c7d14" stroke-width="5.3" stroke-dasharray="13.8 14.6"/>
<g stroke="#101eb2" stroke-width="3.8" fill="none" stroke-linecap="round">
<line x1="2237.8" y1="1428" x2="2249.4" y2="745"/>
<line x1="1690.9" y1="1333.7" x2="1680.2" y2="1442.8"/>
</g>
<g fill="#c6caff" fill-opacity="0.6" stroke="#101eb2" stroke-width="3.6">
<circle cx="1433.6" cy="1459.4" r="7.2"/><circle cx="1446.6" cy="1459.2" r="7.2"/><circle cx="1459.5" cy="1458.9" r="7.2"/><circle cx="1472.5" cy="1458.7" r="7.2"/><circle cx="1485.4" cy="1458.4" r="7.2"/><circle cx="1498.4" cy="1458.2" r="7.2"/><circle cx="1511.4" cy="1457.9" r="7.2"/><circle cx="1524.3" cy="1457.7" r="7.2"/><circle cx="1537.3" cy="1457.4" r="7.2"/><circle cx="1550.2" cy="1457.2" r="7.2"/><circle cx="1563.2" cy="1456.9" r="7.2"/><circle cx="1576.2" cy="1456.7" r="7.2"/><circle cx="1589.1" cy="1456.4" r="7.2"/><circle cx="1602.1" cy="1456.2" r="7.2"/><circle cx="1615.0" cy="1456.0" r="7.2"/><circle cx="1628.0" cy="1455.7" r="7.2"/><circle cx="1641.0" cy="1455.5" r="7.2"/><circle cx="1653.9" cy="1455.3" r="7.2"/><circle cx="1666.9" cy="1455.1" r="7.2"/><circle cx="1679.8" cy="1454.9" r="7.2"/><circle cx="1692.8" cy="1454.7" r="7.2"/><circle cx="1705.8" cy="1454.5" r="7.2"/><circle cx="1718.7" cy="1454.2" r="7.2"/><circle cx="1731.7" cy="1454.0" r="7.2"/><circle cx="1744.6" cy="1453.8" r="7.2"/><circle cx="1757.6" cy="1453.6" r="7.2"/><circle cx="1770.6" cy="1453.4" r="7.2"/><circle cx="1783.5" cy="1453.1" r="7.2"/><circle cx="1796.5" cy="1452.9" r="7.2"/><circle cx="1809.4" cy="1452.7" r="7.2"/><circle cx="1822.4" cy="1452.4" r="7.2"/><circle cx="1835.4" cy="1452.2" r="7.2"/><circle cx="1848.3" cy="1451.9" r="7.2"/><circle cx="1861.3" cy="1451.7" r="7.2"/><circle cx="1874.2" cy="1451.5" r="7.2"/><circle cx="1887.2" cy="1451.2" r="7.2"/><circle cx="1900.2" cy="1451.0" r="7.2"/><circle cx="1913.1" cy="1450.3" r="7.2"/><circle cx="1926.1" cy="1449.7" r="7.2"/><circle cx="1939.0" cy="1449.0" r="7.2"/><circle cx="1952.0" cy="1448.4" r="7.2"/><circle cx="1965.0" cy="1447.8" r="7.2"/><circle cx="1977.9" cy="1447.1" r="7.2"/><circle cx="1990.9" cy="1446.5" r="7.2"/><circle cx="2003.8" cy="1445.8" r="7.2"/><circle cx="2016.8" cy="1445.2" r="7.2"/><circle cx="2029.8" cy="1444.7" r="7.2"/><circle cx="2042.7" cy="1444.1" r="7.2"/><circle cx="2055.7" cy="1443.6" r="7.2"/><circle cx="2068.6" cy="1443.0" r="7.2"/><circle cx="2081.6" cy="1442.5" r="7.2"/><circle cx="2094.6" cy="1441.9" r="7.2"/><circle cx="2107.5" cy="1441.4" r="7.2"/><circle cx="2120.5" cy="1440.8" r="7.2"/><circle cx="2133.4" cy="1440.2" r="7.2"/><circle cx="2146.4" cy="1439.6" r="7.2"/><circle cx="2159.4" cy="1439.0" r="7.2"/><circle cx="2172.3" cy="1438.4" r="7.2"/><circle cx="2185.3" cy="1437.9" r="7.2"/><circle cx="2198.2" cy="1437.3" r="7.2"/><circle cx="2211.2" cy="1436.7" r="7.2"/><circle cx="2224.2" cy="1436.1" r="7.2"/><circle cx="2237.1" cy="1435.5" r="7.2"/><circle cx="1692.8" cy="1319.3" r="7.6"/><circle cx="1705.8" cy="1296.1" r="7.6"/><circle cx="1718.7" cy="1278.9" r="7.6"/><circle cx="1731.7" cy="1266.2" r="7.6"/><circle cx="1744.6" cy="1253.6" r="7.6"/><circle cx="1757.6" cy="1240.9" r="7.6"/><circle cx="1770.6" cy="1222.0" r="7.6"/><circle cx="1783.5" cy="1205.5" r="7.6"/><circle cx="1796.5" cy="1192.9" r="7.6"/><circle cx="1809.4" cy="1180.2" r="7.6"/><circle cx="1822.4" cy="1167.6" r="7.6"/><circle cx="1835.4" cy="1156.2" r="7.6"/><circle cx="1848.3" cy="1143.6" r="7.6"/><circle cx="1861.3" cy="1132.7" r="7.6"/><circle cx="1874.2" cy="1119.5" r="7.6"/><circle cx="1887.2" cy="1106.4" r="7.6"/><circle cx="1900.2" cy="1093.0" r="7.6"/><circle cx="1913.1" cy="1079.8" r="7.6"/><circle cx="1926.1" cy="1067.7" r="7.6"/><circle cx="1939.0" cy="1055.1" r="7.6"/><circle cx="1952.0" cy="1043.7" r="7.6"/><circle cx="1965.0" cy="1029.8" r="7.6"/><circle cx="1977.9" cy="1015.9" r="7.6"/><circle cx="1990.9" cy="1002.0" r="7.6"/><circle cx="2003.8" cy="989.3" r="7.6"/><circle cx="2016.8" cy="976.7" r="7.6"/><circle cx="2029.8" cy="964.0" r="7.6"/><circle cx="2042.7" cy="950.1" r="7.6"/><circle cx="2055.7" cy="935.0" r="7.6"/><circle cx="2068.6" cy="917.9" r="7.6"/><circle cx="2081.6" cy="905.6" r="7.6"/><circle cx="2094.6" cy="892.3" r="7.6"/><circle cx="2107.5" cy="876.2" r="7.6"/><circle cx="2120.5" cy="862.5" r="7.6"/><circle cx="2133.4" cy="848.7" r="7.6"/><circle cx="2146.4" cy="835.4" r="7.6"/><circle cx="2159.4" cy="822.1" r="7.6"/><circle cx="2172.3" cy="807.0" r="7.6"/><circle cx="2185.3" cy="792.7" r="7.6"/><circle cx="2198.2" cy="779.5" r="7.6"/><circle cx="2211.2" cy="765.3" r="7.6"/><circle cx="2224.2" cy="751.0" r="7.6"/><circle cx="2237.1" cy="736.8" r="7.6"/><circle cx="2250.1" cy="724.5" r="7.6"/><circle cx="2263.0" cy="710.3" r="7.6"/><circle cx="2276.0" cy="696.5" r="7.6"/>
</g>
<g stroke="#c5090f" fill="none" stroke-linejoin="round" stroke-linecap="round">
<polyline points="1433.6,1459.4 1446.6,1459.2 1459.5,1458.9 1472.5,1458.7 1485.4,1458.4 1498.4,1458.2 1511.4,1457.9 1524.3,1457.7 1537.3,1457.4 1550.2,1457.2 1563.2,1456.9 1576.2,1456.7 1589.1,1456.4 1602.1,1456.2 1615.0,1456.0 1628.0,1455.7 1641.0,1455.5 1653.9,1455.3 1666.9,1455.1 1679.8,1454.9 1692.8,1454.7 1705.8,1454.5 1718.7,1454.2 1731.7,1454.0 1744.6,1453.8 1757.6,1453.6 1770.6,1453.4 1783.5,1453.1 1796.5,1452.9 1809.4,1452.7 1822.4,1452.4 1835.4,1452.2 1848.3,1451.9 1861.3,1451.7 1874.2,1451.5 1887.2,1451.2 1900.2,1451.0 1913.1,1450.3 1926.1,1449.7 1939.0,1449.0 1952.0,1448.4 1965.0,1447.8 1977.9,1447.1 1990.9,1446.5 2003.8,1445.8 2016.8,1445.2 2029.8,1444.7 2042.7,1444.1 2055.7,1443.6 2068.6,1443.0 2081.6,1442.5 2094.6,1441.9 2107.5,1441.4 2120.5,1440.8 2133.4,1440.2 2146.4,1439.6 2159.4,1439.0 2172.3,1438.4 2185.3,1437.9 2198.2,1437.3 2211.2,1436.7 2224.2,1436.1" stroke-width="5.0"/>
<polyline points="1677.7,1354.0 1691.6,1357.3 1790.6,1363.7 1865.9,1368.0 1898.2,1371.7 1919.7,1376.6 1941.2,1390.6 1962.7,1405.7 1984.3,1418.6 2005.8,1426.7 2038.0,1431.9 2070.3,1434.1 2129.0,1434.4 2168.0,1436.3 2232.0,1435.8" stroke-width="4.8"/>
<polyline points="1900.0,1369.5 1921.0,1373.5 1944.0,1388.0 1966.0,1403.0 1987.0,1416.0 2008.0,1424.5 2040.0,1430.0 2100.0,1433.0" stroke-width="2.6"/>
<polyline points="1677.7,1354.0 1679.5,1343.0 1683.0,1332.5 1691.6,1319.6 1705.0,1296.0 1711.0,1289.5 1744.7,1256.0 1826.9,1168.8 1905.6,1094.1 1982.4,1020.4 2037.0,966.2 2082.4,914.8 2114.2,880.0 2287.4,698.0 2297.0,688.0" stroke-width="4.4"/>
<polyline points="1983.6,1021.6 2038.2,967.4 2083.6,916.0 2115.4,881.2 2288.6,699.2 2298.0,689.0" stroke-width="2.6"/>
</g>
<g stroke="#101eb2" stroke-width="3.8" fill="none" stroke-linecap="round">
<line x1="1646.3" y1="1335.3" x2="1640" y2="1412"/>
<line x1="2286" y1="1171.6" x2="2287.9" y2="1034"/>
</g>
<polygon points="1638.8,1430.8 1627.4,1404.6 1640,1412.5 1652.8,1404.6" fill="#101eb2"/>
<polygon points="2288.4,1012.4 2274.4,1039.6 2288,1032.5 2301.6,1039.6" fill="#101eb2"/>
<g stroke="#c5090f" stroke-width="3.8" fill="none" stroke-linecap="round">
<line x1="1771.2" y1="1385.2" x2="1880" y2="1391.8"/>
<path d="M2049.9,1403.5 C2030,1402 2016.5,1397.1 1988.5,1379.9 C1972,1369 1958,1354 1934,1346"/>
</g>
<polygon points="1898.5,1393 1871.3,1403.8 1878.8,1391.7 1872.9,1379.2" fill="#c5090f"/>
<polygon points="1916,1341 1943.6,1330 1936.5,1345.5 1940.3,1356.6" fill="#c5090f"/>
</g>
<g stroke="#1e1e1e" stroke-width="3.3" fill="none">
<rect x="1433.6" y="698.9" width="973.4" height="783.6"/>
<path d="M1433.6,1459.5 h-16.5 M1433.6,1229.1 h-16.5 M1433.6,998.7 h-16.5 M1433.6,768.3 h-16.5 M1433.6,1482.5 v15.5 M1563.2,1482.5 v15.5 M1692.8,1482.5 v15.5 M1822.4,1482.5 v15.5 M1952.0,1482.5 v15.5 M2081.6,1482.5 v15.5 M2211.2,1482.5 v15.5 M2340.8,1482.5 v15.5"/>
</g>
<text x="1401.5" y="1474.5" font-size="44.5" text-anchor="end" font-weight="normal" fill="#1a1a1a">0</text>
<text x="1401.5" y="1244.1" font-size="44.5" text-anchor="end" font-weight="normal" fill="#1a1a1a">1</text>
<text x="1401.5" y="1013.7" font-size="44.5" text-anchor="end" font-weight="normal" fill="#1a1a1a">2</text>
<text x="1401.5" y="783.3" font-size="44.5" text-anchor="end" font-weight="normal" fill="#1a1a1a">3</text>
<text x="1433.6" y="1548.5" font-size="44.5" text-anchor="middle" font-weight="normal" fill="#1a1a1a">0.0</text>
<text x="1563.2" y="1548.5" font-size="44.5" text-anchor="middle" font-weight="normal" fill="#1a1a1a">0.2</text>
<text x="1692.8" y="1548.5" font-size="44.5" text-anchor="middle" font-weight="normal" fill="#1a1a1a">0.4</text>
<text x="1822.4" y="1548.5" font-size="44.5" text-anchor="middle" font-weight="normal" fill="#1a1a1a">0.6</text>
<text x="1952.0" y="1548.5" font-size="44.5" text-anchor="middle" font-weight="normal" fill="#1a1a1a">0.8</text>
<text x="2081.6" y="1548.5" font-size="44.5" text-anchor="middle" font-weight="normal" fill="#1a1a1a">1.0</text>
<text x="2211.2" y="1548.5" font-size="44.5" text-anchor="middle" font-weight="normal" fill="#1a1a1a">1.2</text>
<text x="2340.8" y="1548.5" font-size="44.5" text-anchor="middle" font-weight="normal" fill="#1a1a1a">1.4</text>
<text x="1918.6" y="1611.5" font-size="44.7" text-anchor="middle" font-weight="normal" fill="#1a1a1a">Voltage (V)</text>
<text transform="translate(1340.7,1082.8) rotate(-90)" text-anchor="middle" font-size="44.5" fill="#1a1a1a">Current (mA)</text>
<line x1="1487.5" y1="779.1" x2="1597.6" y2="779.1" stroke="#101eb2" stroke-width="4.3"/>
<circle cx="1542.3" cy="779.1" r="7.2" fill="#c6caff" stroke="#101eb2" stroke-width="3.3"/>
<line x1="1487.5" y1="838.1" x2="1597.6" y2="838.1" stroke="#c5090f" stroke-width="4.3"/>
<text x="1615.5" y="793.5" font-size="44.5" fill="#1a1a1a">Force <tspan font-style="italic" dx="3">V</tspan></text>
<text x="1615.5" y="852" font-size="44.5" fill="#1a1a1a">Force <tspan font-style="italic" dx="2">I</tspan></text>
</g>
</svg></body></html>
